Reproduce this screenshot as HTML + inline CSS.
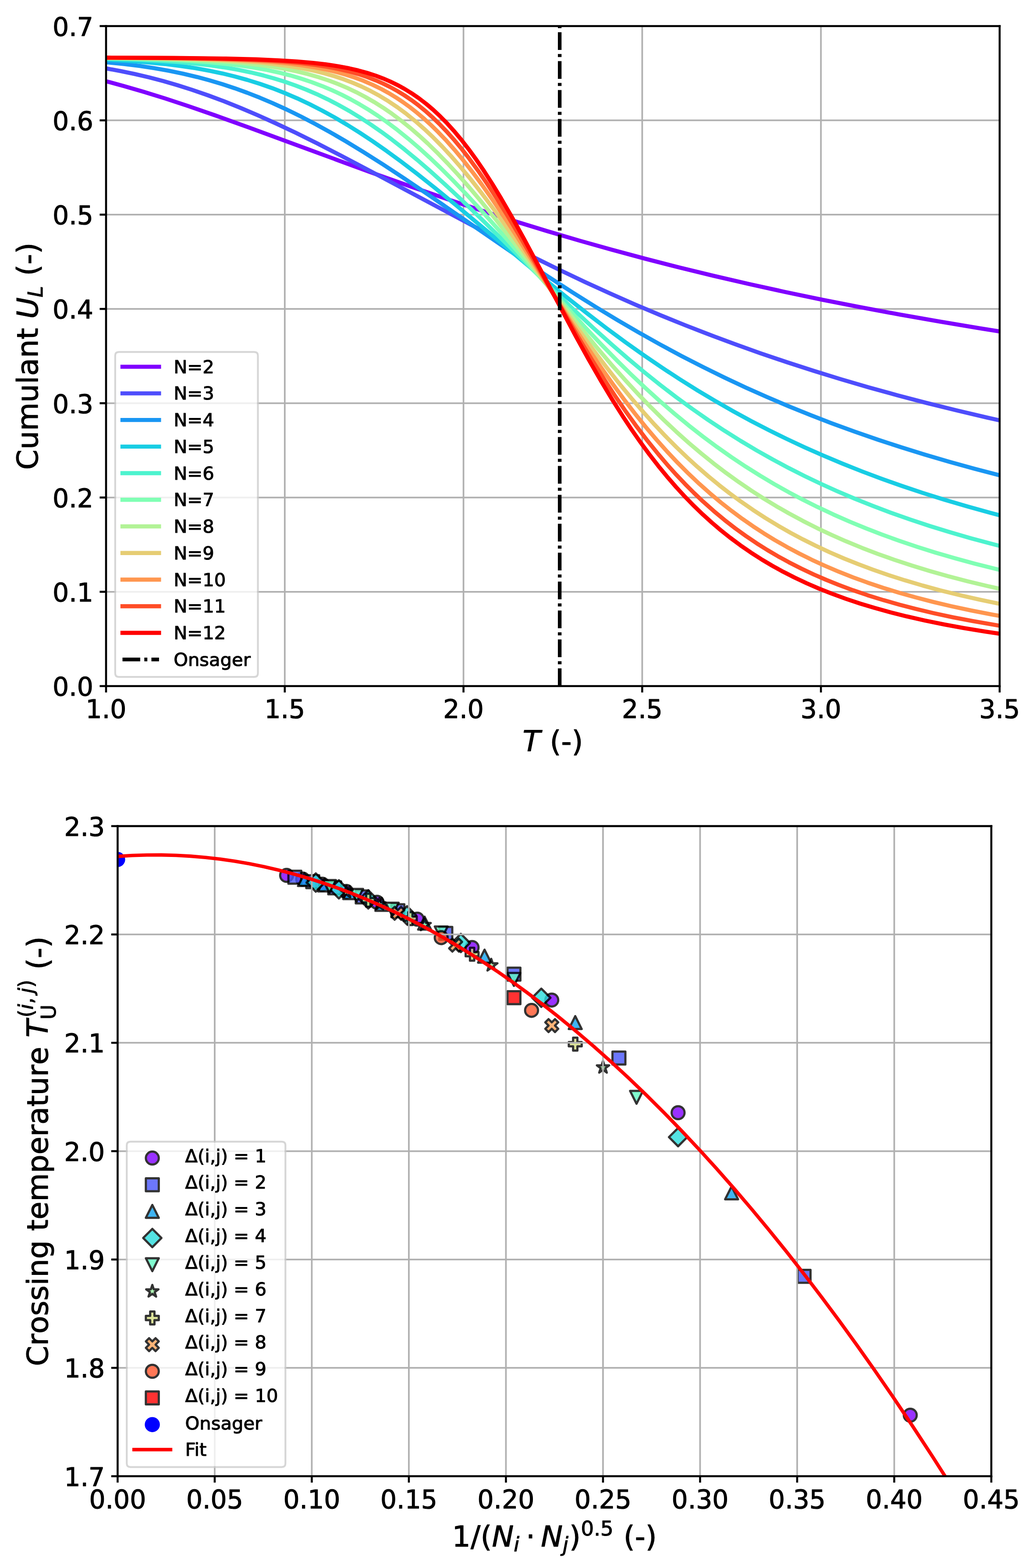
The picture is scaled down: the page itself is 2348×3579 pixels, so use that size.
<!DOCTYPE html>
<html><head><meta charset="utf-8"><title>Binder cumulant and crossing temperatures</title>
<style>html,body{margin:0;padding:0;background:#fff;}svg{display:block;}svg text{stroke:#000;stroke-width:0.28px;stroke-linejoin:round;}</style>
</head><body>
<svg width="2348" height="3579" viewBox="0 0 563.52 858.96" version="1.1">
<defs>
<style type="text/css">*{stroke-linejoin: round; stroke-linecap: butt}</style>
</defs>
<g id="figure_1">
<g id="patch_1">
<path d="M 0 858.96 L 563.52 858.96 L 563.52 0 L 0 0 z
" style="fill: #ffffff"/>
</g>
<g id="axes_1">
<g id="patch_2">
<path d="M 58.08 375.84 L 547.44 375.84 L 547.44 14.28 L 58.08 14.28 z
" style="fill: #ffffff"/>
</g>
<g id="matplotlib.axis_1">
<g id="xtick_1">
<g id="line2d_1">
<path d="M 58.08 375.84 L 58.08 14.28 " clip-path="url(#p5dd6ad48ba)" style="fill: none; stroke: #b0b0b0; stroke-width: 0.9; stroke-linecap: square"/>
</g>
<g id="line2d_2">
<defs>
<path id="mcb6896031c" d="M 0 0 L 0 3.5 " style="stroke: #000000; stroke-width: 1.1"/>
</defs>
<g>
<use href="#mcb6896031c" x="58.08" y="375.84" style="stroke: #000000; stroke-width: 1.1"/>
</g>
</g>
<g id="text_1">
<text style="font-size: 14px; font-family: 'DejaVu Sans', sans-serif; text-anchor: middle" x="58.08" y="393.477813" transform="rotate(-0 58.08 393.477813)">1.0</text>
</g>
</g>
<g id="xtick_2">
<g id="line2d_3">
<path d="M 155.952 375.84 L 155.952 14.28 " clip-path="url(#p5dd6ad48ba)" style="fill: none; stroke: #b0b0b0; stroke-width: 0.9; stroke-linecap: square"/>
</g>
<g id="line2d_4">
<g>
<use href="#mcb6896031c" x="155.952" y="375.84" style="stroke: #000000; stroke-width: 1.1"/>
</g>
</g>
<g id="text_2">
<text style="font-size: 14px; font-family: 'DejaVu Sans', sans-serif; text-anchor: middle" x="155.952" y="393.477813" transform="rotate(-0 155.952 393.477813)">1.5</text>
</g>
</g>
<g id="xtick_3">
<g id="line2d_5">
<path d="M 253.824 375.84 L 253.824 14.28 " clip-path="url(#p5dd6ad48ba)" style="fill: none; stroke: #b0b0b0; stroke-width: 0.9; stroke-linecap: square"/>
</g>
<g id="line2d_6">
<g>
<use href="#mcb6896031c" x="253.824" y="375.84" style="stroke: #000000; stroke-width: 1.1"/>
</g>
</g>
<g id="text_3">
<text style="font-size: 14px; font-family: 'DejaVu Sans', sans-serif; text-anchor: middle" x="253.824" y="393.477813" transform="rotate(-0 253.824 393.477813)">2.0</text>
</g>
</g>
<g id="xtick_4">
<g id="line2d_7">
<path d="M 351.696 375.84 L 351.696 14.28 " clip-path="url(#p5dd6ad48ba)" style="fill: none; stroke: #b0b0b0; stroke-width: 0.9; stroke-linecap: square"/>
</g>
<g id="line2d_8">
<g>
<use href="#mcb6896031c" x="351.696" y="375.84" style="stroke: #000000; stroke-width: 1.1"/>
</g>
</g>
<g id="text_4">
<text style="font-size: 14px; font-family: 'DejaVu Sans', sans-serif; text-anchor: middle" x="351.696" y="393.477813" transform="rotate(-0 351.696 393.477813)">2.5</text>
</g>
</g>
<g id="xtick_5">
<g id="line2d_9">
<path d="M 449.568 375.84 L 449.568 14.28 " clip-path="url(#p5dd6ad48ba)" style="fill: none; stroke: #b0b0b0; stroke-width: 0.9; stroke-linecap: square"/>
</g>
<g id="line2d_10">
<g>
<use href="#mcb6896031c" x="449.568" y="375.84" style="stroke: #000000; stroke-width: 1.1"/>
</g>
</g>
<g id="text_5">
<text style="font-size: 14px; font-family: 'DejaVu Sans', sans-serif; text-anchor: middle" x="449.568" y="393.477813" transform="rotate(-0 449.568 393.477813)">3.0</text>
</g>
</g>
<g id="xtick_6">
<g id="line2d_11">
<path d="M 547.44 375.84 L 547.44 14.28 " clip-path="url(#p5dd6ad48ba)" style="fill: none; stroke: #b0b0b0; stroke-width: 0.9; stroke-linecap: square"/>
</g>
<g id="line2d_12">
<g>
<use href="#mcb6896031c" x="547.44" y="375.84" style="stroke: #000000; stroke-width: 1.1"/>
</g>
</g>
<g id="text_6">
<text style="font-size: 14px; font-family: 'DejaVu Sans', sans-serif; text-anchor: middle" x="547.44" y="393.477813" transform="rotate(-0 547.44 393.477813)">3.5</text>
</g>
</g>
<g id="text_7">
<!-- $T$ (-) -->
<g transform="translate(286.2 412.546875)">
<text>
<tspan x="0" y="-0.859375" style="font-style: oblique; font-size: 16px; font-family: 'DejaVu Sans', sans-serif">T</tspan>
<tspan x="9.773438" y="-0.859375" style="font-size: 16px; font-family: 'DejaVu Sans', sans-serif"> </tspan>
<tspan x="14.859375" y="-0.859375" style="font-size: 16px; font-family: 'DejaVu Sans', sans-serif">(</tspan>
<tspan x="21.101562" y="-0.859375" style="font-size: 16px; font-family: 'DejaVu Sans', sans-serif">-</tspan>
<tspan x="26.875" y="-0.859375" style="font-size: 16px; font-family: 'DejaVu Sans', sans-serif">)</tspan>
</text>
</g>
</g>
</g>
<g id="matplotlib.axis_2">
<g id="ytick_1">
<g id="line2d_13">
<path d="M 58.08 375.84 L 547.44 375.84 " clip-path="url(#p5dd6ad48ba)" style="fill: none; stroke: #b0b0b0; stroke-width: 0.9; stroke-linecap: square"/>
</g>
<g id="line2d_14">
<defs>
<path id="mef8e797f4b" d="M 0 0 L -3.5 0 " style="stroke: #000000; stroke-width: 1.1"/>
</defs>
<g>
<use href="#mef8e797f4b" x="58.08" y="375.84" style="stroke: #000000; stroke-width: 1.1"/>
</g>
</g>
<g id="text_8">
<text style="font-size: 14px; font-family: 'DejaVu Sans', sans-serif; text-anchor: end" x="51.08" y="381.158906" transform="rotate(-0 51.08 381.158906)">0.0</text>
</g>
</g>
<g id="ytick_2">
<g id="line2d_15">
<path d="M 58.08 324.188571 L 547.44 324.188571 " clip-path="url(#p5dd6ad48ba)" style="fill: none; stroke: #b0b0b0; stroke-width: 0.9; stroke-linecap: square"/>
</g>
<g id="line2d_16">
<g>
<use href="#mef8e797f4b" x="58.08" y="324.188571" style="stroke: #000000; stroke-width: 1.1"/>
</g>
</g>
<g id="text_9">
<text style="font-size: 14px; font-family: 'DejaVu Sans', sans-serif; text-anchor: end" x="51.08" y="329.507478" transform="rotate(-0 51.08 329.507478)">0.1</text>
</g>
</g>
<g id="ytick_3">
<g id="line2d_17">
<path d="M 58.08 272.537143 L 547.44 272.537143 " clip-path="url(#p5dd6ad48ba)" style="fill: none; stroke: #b0b0b0; stroke-width: 0.9; stroke-linecap: square"/>
</g>
<g id="line2d_18">
<g>
<use href="#mef8e797f4b" x="58.08" y="272.537143" style="stroke: #000000; stroke-width: 1.1"/>
</g>
</g>
<g id="text_10">
<text style="font-size: 14px; font-family: 'DejaVu Sans', sans-serif; text-anchor: end" x="51.08" y="277.856049" transform="rotate(-0 51.08 277.856049)">0.2</text>
</g>
</g>
<g id="ytick_4">
<g id="line2d_19">
<path d="M 58.08 220.885714 L 547.44 220.885714 " clip-path="url(#p5dd6ad48ba)" style="fill: none; stroke: #b0b0b0; stroke-width: 0.9; stroke-linecap: square"/>
</g>
<g id="line2d_20">
<g>
<use href="#mef8e797f4b" x="58.08" y="220.885714" style="stroke: #000000; stroke-width: 1.1"/>
</g>
</g>
<g id="text_11">
<text style="font-size: 14px; font-family: 'DejaVu Sans', sans-serif; text-anchor: end" x="51.08" y="226.204621" transform="rotate(-0 51.08 226.204621)">0.3</text>
</g>
</g>
<g id="ytick_5">
<g id="line2d_21">
<path d="M 58.08 169.234286 L 547.44 169.234286 " clip-path="url(#p5dd6ad48ba)" style="fill: none; stroke: #b0b0b0; stroke-width: 0.9; stroke-linecap: square"/>
</g>
<g id="line2d_22">
<g>
<use href="#mef8e797f4b" x="58.08" y="169.234286" style="stroke: #000000; stroke-width: 1.1"/>
</g>
</g>
<g id="text_12">
<text style="font-size: 14px; font-family: 'DejaVu Sans', sans-serif; text-anchor: end" x="51.08" y="174.553192" transform="rotate(-0 51.08 174.553192)">0.4</text>
</g>
</g>
<g id="ytick_6">
<g id="line2d_23">
<path d="M 58.08 117.582857 L 547.44 117.582857 " clip-path="url(#p5dd6ad48ba)" style="fill: none; stroke: #b0b0b0; stroke-width: 0.9; stroke-linecap: square"/>
</g>
<g id="line2d_24">
<g>
<use href="#mef8e797f4b" x="58.08" y="117.582857" style="stroke: #000000; stroke-width: 1.1"/>
</g>
</g>
<g id="text_13">
<text style="font-size: 14px; font-family: 'DejaVu Sans', sans-serif; text-anchor: end" x="51.08" y="122.901763" transform="rotate(-0 51.08 122.901763)">0.5</text>
</g>
</g>
<g id="ytick_7">
<g id="line2d_25">
<path d="M 58.08 65.931429 L 547.44 65.931429 " clip-path="url(#p5dd6ad48ba)" style="fill: none; stroke: #b0b0b0; stroke-width: 0.9; stroke-linecap: square"/>
</g>
<g id="line2d_26">
<g>
<use href="#mef8e797f4b" x="58.08" y="65.931429" style="stroke: #000000; stroke-width: 1.1"/>
</g>
</g>
<g id="text_14">
<text style="font-size: 14px; font-family: 'DejaVu Sans', sans-serif; text-anchor: end" x="51.08" y="71.250335" transform="rotate(-0 51.08 71.250335)">0.6</text>
</g>
</g>
<g id="ytick_8">
<g id="line2d_27">
<path d="M 58.08 14.28 L 547.44 14.28 " clip-path="url(#p5dd6ad48ba)" style="fill: none; stroke: #b0b0b0; stroke-width: 0.9; stroke-linecap: square"/>
</g>
<g id="line2d_28">
<g>
<use href="#mef8e797f4b" x="58.08" y="14.28" style="stroke: #000000; stroke-width: 1.1"/>
</g>
</g>
<g id="text_15">
<text style="font-size: 14px; font-family: 'DejaVu Sans', sans-serif; text-anchor: end" x="51.08" y="19.598906" transform="rotate(-0 51.08 19.598906)">0.7</text>
</g>
</g>
<g id="text_16">
<!-- Cumulant $U_L$ (-) -->
<g transform="translate(21.488125 257.38) rotate(-90)">
<text>
<tspan x="0" y="-0.84375" style="font-size: 16px; font-family: 'DejaVu Sans', sans-serif">C</tspan>
<tspan x="11.171875" y="-0.84375" style="font-size: 16px; font-family: 'DejaVu Sans', sans-serif">u</tspan>
<tspan x="21.3125" y="-0.84375" style="font-size: 16px; font-family: 'DejaVu Sans', sans-serif">m</tspan>
<tspan x="36.898438" y="-0.84375" style="font-size: 16px; font-family: 'DejaVu Sans', sans-serif">u</tspan>
<tspan x="47.039062" y="-0.84375" style="font-size: 16px; font-family: 'DejaVu Sans', sans-serif">l</tspan>
<tspan x="51.484375" y="-0.84375" style="font-size: 16px; font-family: 'DejaVu Sans', sans-serif">a</tspan>
<tspan x="61.289062" y="-0.84375" style="font-size: 16px; font-family: 'DejaVu Sans', sans-serif">n</tspan>
<tspan x="71.429688" y="-0.84375" style="font-size: 16px; font-family: 'DejaVu Sans', sans-serif">t</tspan>
<tspan x="77.703125" y="-0.84375" style="font-size: 16px; font-family: 'DejaVu Sans', sans-serif"> </tspan>
<tspan x="101.177344" y="-0.84375" style="font-size: 16px; font-family: 'DejaVu Sans', sans-serif"> </tspan>
<tspan x="106.263281" y="-0.84375" style="font-size: 16px; font-family: 'DejaVu Sans', sans-serif">(</tspan>
<tspan x="112.505469" y="-0.84375" style="font-size: 16px; font-family: 'DejaVu Sans', sans-serif">-</tspan>
<tspan x="118.278906" y="-0.84375" style="font-size: 16px; font-family: 'DejaVu Sans', sans-serif">)</tspan>
<tspan x="82.789062" y="-0.84375" style="font-style: oblique; font-size: 16px; font-family: 'DejaVu Sans', sans-serif">U</tspan>
<tspan x="94.5" y="1.78125" style="font-style: oblique; font-size: 11.2px; font-family: 'DejaVu Sans', sans-serif">L</tspan>
</text>
</g>
</g>
</g>
<g id="line2d_29">
<path d="M 58.08 44.505252 L 67.8672 47.13776 L 78.63312 50.263876 L 90.37776 53.913505 L 103.10112 58.102103 L 117.78192 63.172744 L 136.3776 69.850296 L 165.7392 80.676728 L 202.93056 94.340413 L 225.44112 102.365293 L 245.01552 109.11666 L 263.6112 115.304272 L 282.20688 121.254407 L 299.82384 126.664158 L 317.4408 131.850064 L 335.05776 136.813083 L 353.65344 141.814073 L 372.24912 146.577405 L 390.8448 151.111332 L 410.4192 155.646307 L 429.9936 159.949023 L 450.54672 164.229961 L 471.09984 168.28182 L 492.63168 172.295722 L 514.16352 176.088219 L 536.67408 179.832021 L 547.44 181.547153 L 547.44 181.547153 " clip-path="url(#p5dd6ad48ba)" style="fill: none; stroke: #8000ff; stroke-width: 2.25; stroke-linecap: square"/>
</g>
<g id="line2d_30">
<path d="M 58.08 37.476616 L 65.90976 38.899082 L 73.73952 40.526762 L 81.56928 42.365592 L 89.39904 44.418645 L 97.2288 46.686115 L 105.05856 49.165387 L 113.86704 52.201087 L 122.67552 55.486974 L 131.484 59.008519 L 141.2712 63.176561 L 151.0584 67.587127 L 161.82432 72.683863 L 173.56896 78.49017 L 187.27104 85.519189 L 204.888 94.832439 L 273.3984 131.352412 L 290.03664 139.808052 L 305.69616 147.508275 L 320.37696 154.475215 L 334.07904 160.744234 L 347.78112 166.780482 L 361.4832 172.580658 L 375.18528 178.144557 L 388.88736 183.474447 L 402.58944 188.574527 L 416.29152 193.450467 L 430.97232 198.433657 L 445.65312 203.176598 L 460.33392 207.689227 L 475.99344 212.260456 L 491.65296 216.594042 L 507.31248 220.702604 L 523.95072 224.835245 L 540.58896 228.742253 L 547.44 230.288695 L 547.44 230.288695 " clip-path="url(#p5dd6ad48ba)" style="fill: none; stroke: #4e4dfc; stroke-width: 2.25; stroke-linecap: square"/>
</g>
<g id="line2d_31">
<path d="M 58.08 34.086727 L 67.8672 35.058135 L 76.67568 36.155841 L 84.50544 37.333696 L 92.3352 38.722285 L 100.16496 40.339889 L 107.99472 42.20277 L 114.84576 44.044802 L 121.6968 46.092323 L 128.54784 48.350477 L 135.39888 50.822197 L 142.24992 53.5081 L 149.10096 56.406456 L 156.93072 59.973712 L 164.76048 63.8035 L 172.59024 67.882717 L 180.42 72.195143 L 189.22848 77.301794 L 199.01568 83.257302 L 209.7816 90.098785 L 221.52624 97.838119 L 236.20704 107.796292 L 262.63248 126.061793 L 284.16432 140.82321 L 299.82384 151.285818 L 313.52592 160.168337 L 326.24928 168.146695 L 337.99392 175.257317 L 349.73856 182.109442 L 361.4832 188.694241 L 373.22784 195.007357 L 384.97248 201.048134 L 396.71712 206.818914 L 408.46176 212.324417 L 420.2064 217.571199 L 431.95104 222.567192 L 443.69568 227.321316 L 455.44032 231.843154 L 468.16368 236.491274 L 480.88704 240.891449 L 493.6104 245.056642 L 506.33376 248.999642 L 520.03584 253.011771 L 533.73792 256.79573 L 547.44 260.365917 L 547.44 260.365917 " clip-path="url(#p5dd6ad48ba)" style="fill: none; stroke: #1996f3; stroke-width: 2.25; stroke-linecap: square"/>
</g>
<g id="line2d_32">
<path d="M 58.08 32.723312 L 69.82464 33.347064 L 80.59056 34.139075 L 90.37776 35.091297 L 99.18624 36.178434 L 107.016 37.359325 L 114.84576 38.770485 L 121.6968 40.215476 L 128.54784 41.875082 L 135.39888 43.76572 L 142.24992 45.902156 L 149.10096 48.296994 L 155.952 50.960207 L 162.80304 53.898729 L 169.65408 57.116146 L 176.50512 60.61247 L 183.35616 64.38405 L 190.2072 68.423584 L 197.05824 72.720264 L 203.90928 77.260014 L 211.73904 82.724009 L 219.5688 88.453855 L 228.37728 95.17688 L 238.16448 102.931886 L 249.90912 112.536103 L 266.54736 126.470286 L 295.90896 151.095686 L 309.61104 162.263156 L 321.35568 171.550462 L 332.1216 179.786992 L 342.88752 187.729198 L 352.67472 194.67709 L 362.46192 201.355628 L 372.24912 207.759619 L 382.03632 213.88757 L 391.82352 219.741051 L 401.61072 225.324112 L 411.39792 230.642764 L 421.18512 235.704524 L 430.97232 240.518023 L 440.75952 245.092682 L 450.54672 249.438431 L 461.31264 253.96656 L 472.07856 258.243805 L 482.84448 262.283819 L 493.6104 266.100004 L 505.35504 270.023124 L 517.09968 273.711605 L 529.82304 277.460615 L 542.5464 280.971004 L 547.44 282.261343 L 547.44 282.261343 " clip-path="url(#p5dd6ad48ba)" style="fill: none; stroke: #18cde4; stroke-width: 2.25; stroke-linecap: square"/>
</g>
<g id="line2d_33">
<path d="M 58.08 32.150521 L 73.73952 32.638751 L 86.46288 33.252502 L 97.2288 33.987184 L 107.016 34.881228 L 115.82448 35.917071 L 123.65424 37.059849 L 130.50528 38.25963 L 137.35632 39.671459 L 144.20736 41.320133 L 150.07968 42.940399 L 155.952 44.767553 L 161.82432 46.815481 L 167.69664 49.096707 L 173.56896 51.62199 L 179.44128 54.399958 L 185.3136 57.436768 L 191.18592 60.735835 L 197.05824 64.297622 L 202.93056 68.119514 L 208.80288 72.195784 L 214.6752 76.517643 L 221.52624 81.854437 L 228.37728 87.486268 L 235.22832 93.385595 L 243.05808 100.415189 L 251.86656 108.629221 L 262.63248 119.00051 L 277.31328 133.490176 L 302.76 158.641992 L 314.50464 169.928232 L 325.27056 179.960628 L 335.05776 188.766706 L 343.86624 196.406552 L 352.67472 203.757291 L 361.4832 210.807338 L 370.29168 217.55038 L 379.10016 223.98457 L 387.90864 230.111768 L 396.71712 235.936822 L 405.5256 241.466943 L 414.33408 246.711138 L 423.14256 251.679735 L 431.95104 256.383973 L 440.75952 260.835667 L 449.568 265.046928 L 458.37648 269.029946 L 468.16368 273.202529 L 477.95088 277.124495 L 487.73808 280.811568 L 498.504 284.614026 L 509.26992 288.169574 L 520.03584 291.49617 L 531.78048 294.883795 L 543.52512 298.039227 L 547.44 299.042719 L 547.44 299.042719 " clip-path="url(#p5dd6ad48ba)" style="fill: none; stroke: #4df3ce; stroke-width: 2.25; stroke-linecap: square"/>
</g>
<g id="line2d_34">
<path d="M 58.08 31.882433 L 77.6544 32.271465 L 92.3352 32.769677 L 104.07984 33.36735 L 114.84576 34.136193 L 123.65424 34.973783 L 131.484 35.917257 L 139.31376 37.088425 L 146.1648 38.333988 L 153.01584 39.818382 L 158.88816 41.305626 L 164.76048 43.013392 L 170.6328 44.962458 L 176.50512 47.172816 L 182.37744 49.663052 L 187.27104 51.96404 L 192.16464 54.479059 L 197.05824 57.214703 L 201.95184 60.175782 L 206.84544 63.36513 L 211.73904 66.783449 L 217.61136 71.185347 L 223.48368 75.907608 L 229.356 80.938479 L 235.22832 86.261655 L 241.10064 91.856621 L 247.95168 98.695062 L 255.78144 106.866411 L 264.58992 116.426337 L 275.35584 128.484542 L 296.88768 153.075135 L 310.58976 168.516797 L 320.37696 179.240833 L 329.18544 188.594002 L 337.99392 197.615462 L 345.82368 205.327888 L 353.65344 212.733951 L 361.4832 219.822999 L 369.31296 226.589734 L 377.14272 233.033384 L 384.97248 239.156919 L 392.80224 244.96632 L 400.632 250.469924 L 408.46176 255.677851 L 416.29152 260.601503 L 424.12128 265.253152 L 431.95104 269.645588 L 439.7808 273.79184 L 447.61056 277.704949 L 456.41904 281.84454 L 465.22752 285.72322 L 474.036 289.358208 L 482.84448 292.765949 L 492.63168 296.304743 L 502.41888 299.602325 L 512.20608 302.677425 L 522.972 305.823768 L 533.73792 308.743193 L 545.48256 311.692043 L 547.44 312.161156 L 547.44 312.161156 " clip-path="url(#p5dd6ad48ba)" style="fill: none; stroke: #80ffb4; stroke-width: 2.25; stroke-linecap: square"/>
</g>
<g id="line2d_35">
<path d="M 58.08 31.742376 L 81.56928 32.062588 L 99.18624 32.518952 L 112.88832 33.096883 L 123.65424 33.760489 L 133.44144 34.5884 L 141.2712 35.452543 L 149.10096 36.542561 L 155.952 37.720899 L 162.80304 39.148131 L 168.67536 40.60043 L 174.54768 42.292568 L 180.42 44.252203 L 185.3136 46.109452 L 190.2072 48.187041 L 195.1008 50.499543 L 199.9944 53.060254 L 204.888 55.880768 L 209.7816 58.970571 L 214.6752 62.336659 L 219.5688 65.983195 L 224.4624 69.911246 L 229.356 74.118579 L 234.2496 78.599563 L 239.1432 83.345161 L 245.01552 89.371558 L 250.88784 95.733833 L 256.76016 102.399024 L 263.6112 110.507331 L 271.44096 120.130584 L 281.22816 132.539707 L 318.41952 180.129688 L 327.228 190.821012 L 335.05776 199.983662 L 342.88752 208.785211 L 349.73856 216.168869 L 356.5896 223.243578 L 363.44064 230.002907 L 370.29168 236.444916 L 377.14272 242.571427 L 383.99376 248.387343 L 390.8448 253.900019 L 397.69584 259.118702 L 404.54688 264.054045 L 411.39792 268.717687 L 418.24896 273.121898 L 425.1 277.279292 L 431.95104 281.202587 L 439.7808 285.415903 L 447.61056 289.358437 L 455.44032 293.048076 L 463.27008 296.501957 L 472.07856 300.126018 L 480.88704 303.494125 L 489.69552 306.626628 L 499.48272 309.853765 L 509.26992 312.8371 L 519.05712 315.598339 L 529.82304 318.402683 L 540.58896 320.985858 L 547.44 322.524371 L 547.44 322.524371 " clip-path="url(#p5dd6ad48ba)" style="fill: none; stroke: #b2f396; stroke-width: 2.25; stroke-linecap: square"/>
</g>
<g id="line2d_36">
<path d="M 58.08 31.662404 L 86.46288 31.948878 L 106.03728 32.363502 L 120.71808 32.895682 L 132.46272 33.544051 L 142.24992 34.306439 L 151.0584 35.229082 L 158.88816 36.294006 L 165.7392 37.461877 L 171.61152 38.67357 L 177.48384 40.112496 L 183.35616 41.812126 L 188.24976 43.452945 L 193.14336 45.31996 L 198.03696 47.433853 L 202.93056 49.814688 L 207.82416 52.481326 L 212.71776 55.450784 L 217.61136 58.7376 L 222.50496 62.353192 L 227.39856 66.30528 L 232.29216 70.59738 L 237.18576 75.228422 L 242.07936 80.192498 L 246.97296 85.478779 L 251.86656 91.071594 L 257.73888 98.158779 L 263.6112 105.615154 L 270.46224 114.713749 L 278.292 125.52955 L 288.0792 139.466881 L 315.48336 178.743313 L 324.29184 190.835997 L 332.1216 201.186842 L 338.97264 209.886978 L 345.82368 218.223952 L 352.67472 226.178857 L 358.54704 232.685025 L 364.41936 238.900129 L 370.29168 244.824969 L 376.164 250.463067 L 382.03632 255.820166 L 387.90864 260.903765 L 393.78096 265.722713 L 399.65328 270.286848 L 405.5256 274.606695 L 412.37664 279.352382 L 419.22768 283.798198 L 426.07872 287.961882 L 432.92976 291.860909 L 439.7808 295.512271 L 446.63184 298.932324 L 454.4616 302.577717 L 462.29136 305.963378 L 470.12112 309.109885 L 477.95088 312.036365 L 486.75936 315.087632 L 495.56784 317.905902 L 505.35504 320.789548 L 515.14224 323.437477 L 525.90816 326.10568 L 536.67408 328.544383 L 547.44 330.777936 L 547.44 330.777936 " clip-path="url(#p5dd6ad48ba)" style="fill: none; stroke: #e6cd73; stroke-width: 2.25; stroke-linecap: square"/>
</g>
<g id="line2d_37">
<path d="M 58.08 31.613551 L 90.37776 31.861889 L 111.9096 32.239849 L 127.56912 32.733726 L 139.31376 33.311393 L 149.10096 33.998897 L 157.90944 34.842588 L 165.7392 35.831095 L 172.59024 36.931493 L 178.46256 38.089299 L 184.33488 39.483152 L 189.22848 40.853648 L 194.12208 42.440397 L 199.01568 44.269231 L 203.90928 46.36657 L 208.80288 48.758766 L 212.71776 50.902013 L 216.63264 53.262639 L 220.54752 55.851946 L 224.4624 58.679903 L 228.37728 61.754835 L 232.29216 65.08312 L 236.20704 68.668906 L 240.12192 72.513883 L 244.0368 76.61709 L 248.9304 82.103275 L 253.824 87.973383 L 258.7176 94.207072 L 263.6112 100.777537 L 269.48352 109.060308 L 275.35584 117.715055 L 282.20688 128.184142 L 291.99408 143.597147 L 314.50464 179.27452 L 322.3344 191.226215 L 329.18544 201.327449 L 336.03648 211.034924 L 341.9088 219.009883 L 347.78112 226.646213 L 353.65344 233.932655 L 359.52576 240.86396 L 365.39808 247.439987 L 371.2704 253.664822 L 377.14272 259.54595 L 383.01504 265.093503 L 388.88736 270.319595 L 394.75968 275.237748 L 400.632 279.862405 L 406.50432 284.208524 L 412.37664 288.291258 L 418.24896 292.125686 L 424.12128 295.726623 L 430.97232 299.651779 L 437.82336 303.300618 L 444.6744 306.693928 L 451.52544 309.851264 L 459.3552 313.194095 L 467.18496 316.277805 L 475.01472 319.12553 L 483.8232 322.073349 L 492.63168 324.776337 L 501.44016 327.258853 L 511.22736 329.785051 L 521.01456 332.092453 L 531.78048 334.405729 L 543.52512 336.691551 L 547.44 337.403578 L 547.44 337.403578 " clip-path="url(#p5dd6ad48ba)" style="fill: none; stroke: #ff964f; stroke-width: 2.25; stroke-linecap: square"/>
</g>
<g id="line2d_38">
<path d="M 58.08 31.582114 L 95.27136 31.812303 L 117.78192 32.156467 L 133.44144 32.59432 L 146.1648 33.163636 L 155.952 33.805908 L 164.76048 34.604228 L 172.59024 35.552543 L 179.44128 36.622811 L 185.3136 37.763527 L 191.18592 39.154166 L 196.07952 40.537675 L 200.97312 42.156967 L 205.86672 44.043592 L 209.7816 45.767373 L 213.69648 47.700222 L 217.61136 49.858985 L 221.52624 52.259961 L 225.44112 54.918486 L 229.356 57.84848 L 233.27088 61.06198 L 237.18576 64.568681 L 241.10064 68.375503 L 245.01552 72.486197 L 248.9304 76.901022 L 252.84528 81.616516 L 256.76016 86.625354 L 261.65376 93.28149 L 266.54736 100.348064 L 271.44096 107.786443 L 277.31328 117.138018 L 284.16432 128.519337 L 292.9728 143.65446 L 316.46208 184.339774 L 324.29184 197.302072 L 331.14288 208.189428 L 337.0152 217.128724 L 342.88752 225.673355 L 348.75984 233.803792 L 354.63216 241.509697 L 360.50448 248.788553 L 365.39808 254.530721 L 370.29168 259.984023 L 375.18528 265.155512 L 380.07888 270.053796 L 384.97248 274.68865 L 390.8448 279.91773 L 396.71712 284.802103 L 402.58944 289.361638 L 408.46176 293.61629 L 414.33408 297.585731 L 420.2064 301.289092 L 426.07872 304.744768 L 431.95104 307.970288 L 438.80208 311.464573 L 445.65312 314.692758 L 452.50416 317.677629 L 459.3552 320.440156 L 467.18496 323.349651 L 475.01472 326.019834 L 483.8232 328.766808 L 492.63168 331.270209 L 501.44016 333.556303 L 511.22736 335.869638 L 521.99328 338.170565 L 532.7592 340.247124 L 544.50384 342.288816 L 547.44 342.766312 L 547.44 342.766312 " clip-path="url(#p5dd6ad48ba)" style="fill: none; stroke: #ff4d27; stroke-width: 2.25; stroke-linecap: square"/>
</g>
<g id="line2d_39">
<path d="M 58.08 31.561022 L 99.18624 31.768308 L 123.65424 32.099491 L 140.29248 32.532416 L 153.01584 33.075328 L 162.80304 33.694898 L 171.61152 34.474682 L 178.46256 35.280791 L 185.3136 36.316552 L 191.18592 37.434504 L 196.07952 38.564028 L 200.97312 39.906439 L 205.86672 41.496103 L 209.7816 42.970808 L 213.69648 44.647701 L 217.61136 46.547549 L 221.52624 48.691362 L 225.44112 51.09992 L 229.356 53.793238 L 233.27088 56.78996 L 237.18576 60.106718 L 241.10064 63.757462 L 245.01552 67.752814 L 248.9304 72.099463 L 252.84528 76.799643 L 256.76016 81.850729 L 260.67504 87.244974 L 264.58992 92.969422 L 269.48352 100.561322 L 274.37712 108.59472 L 280.24944 118.737794 L 287.10048 131.120961 L 295.90896 147.605431 L 315.48336 184.476437 L 322.3344 196.875367 L 329.18544 208.79088 L 335.05776 218.548957 L 340.93008 227.843461 L 345.82368 235.215728 L 350.71728 242.239813 L 355.61088 248.912972 L 360.50448 255.236978 L 365.39808 261.217328 L 370.29168 266.862495 L 375.18528 272.183248 L 380.07888 277.192062 L 384.97248 281.902597 L 389.86608 286.329262 L 394.75968 290.48686 L 399.65328 294.39029 L 405.5256 298.759673 L 411.39792 302.809193 L 417.27024 306.562775 L 423.14256 310.04316 L 429.01488 313.271771 L 434.8872 316.268644 L 441.73824 319.496891 L 448.58928 322.462243 L 455.44032 325.189455 L 463.27008 328.043341 L 471.09984 330.645447 L 478.9296 333.022449 L 487.73808 335.456849 L 496.54656 337.665823 L 506.33376 339.887137 L 517.09968 342.082332 L 527.8656 344.051105 L 539.61024 345.975215 L 547.44 347.143953 L 547.44 347.143953 " clip-path="url(#p5dd6ad48ba)" style="fill: none; stroke: #ff0000; stroke-width: 2.25; stroke-linecap: square"/>
</g>
<g id="line2d_40">
<path d="M 306.51541 375.84 L 306.51541 14.28 " clip-path="url(#p5dd6ad48ba)" style="fill: none; stroke-dasharray: 9.72,2.232,1.656,2.232; stroke-dashoffset: 0; stroke: #000000; stroke-width: 2"/>
</g>
<g id="patch_3">
<path d="M 58.08 375.84 L 58.08 14.28 " style="fill: none; stroke: #000000; stroke-width: 1.1; stroke-linejoin: miter; stroke-linecap: square"/>
</g>
<g id="patch_4">
<path d="M 547.44 375.84 L 547.44 14.28 " style="fill: none; stroke: #000000; stroke-width: 1.1; stroke-linejoin: miter; stroke-linecap: square"/>
</g>
<g id="patch_5">
<path d="M 58.08 375.84 L 547.44 375.84 " style="fill: none; stroke: #000000; stroke-width: 1.1; stroke-linejoin: miter; stroke-linecap: square"/>
</g>
<g id="patch_6">
<path d="M 58.08 14.28 L 547.44 14.28 " style="fill: none; stroke: #000000; stroke-width: 1.1; stroke-linejoin: miter; stroke-linecap: square"/>
</g>
<g id="legend_1">
<g id="patch_7">
<path d="M 65.08 370.84 L 139.239375 370.84 Q 141.239375 370.84 141.239375 368.84 L 141.239375 194.8025 Q 141.239375 192.8025 139.239375 192.8025 L 65.08 192.8025 Q 63.08 192.8025 63.08 194.8025 L 63.08 368.84 Q 63.08 370.84 65.08 370.84 z
" style="fill: #ffffff; opacity: 0.8; stroke: #cccccc; stroke-linejoin: miter"/>
</g>
<g id="line2d_41">
<path d="M 67.08 200.900938 L 77.08 200.900938 L 87.08 200.900938 " style="fill: none; stroke: #8000ff; stroke-width: 2.25; stroke-linecap: square"/>
</g>
<g id="text_17">
<text style="font-size: 10px; font-family: 'DejaVu Sans', sans-serif; text-anchor: start" x="95.08" y="204.400938" transform="rotate(-0 95.08 204.400938)">N=2</text>
</g>
<g id="line2d_42">
<path d="M 67.08 215.479063 L 77.08 215.479063 L 87.08 215.479063 " style="fill: none; stroke: #4e4dfc; stroke-width: 2.25; stroke-linecap: square"/>
</g>
<g id="text_18">
<text style="font-size: 10px; font-family: 'DejaVu Sans', sans-serif; text-anchor: start" x="95.08" y="218.979063" transform="rotate(-0 95.08 218.979063)">N=3</text>
</g>
<g id="line2d_43">
<path d="M 67.08 230.057188 L 77.08 230.057188 L 87.08 230.057188 " style="fill: none; stroke: #1996f3; stroke-width: 2.25; stroke-linecap: square"/>
</g>
<g id="text_19">
<text style="font-size: 10px; font-family: 'DejaVu Sans', sans-serif; text-anchor: start" x="95.08" y="233.557188" transform="rotate(-0 95.08 233.557188)">N=4</text>
</g>
<g id="line2d_44">
<path d="M 67.08 244.635313 L 77.08 244.635313 L 87.08 244.635313 " style="fill: none; stroke: #18cde4; stroke-width: 2.25; stroke-linecap: square"/>
</g>
<g id="text_20">
<text style="font-size: 10px; font-family: 'DejaVu Sans', sans-serif; text-anchor: start" x="95.08" y="248.135313" transform="rotate(-0 95.08 248.135313)">N=5</text>
</g>
<g id="line2d_45">
<path d="M 67.08 259.213438 L 77.08 259.213438 L 87.08 259.213438 " style="fill: none; stroke: #4df3ce; stroke-width: 2.25; stroke-linecap: square"/>
</g>
<g id="text_21">
<text style="font-size: 10px; font-family: 'DejaVu Sans', sans-serif; text-anchor: start" x="95.08" y="262.713438" transform="rotate(-0 95.08 262.713438)">N=6</text>
</g>
<g id="line2d_46">
<path d="M 67.08 273.791563 L 77.08 273.791563 L 87.08 273.791563 " style="fill: none; stroke: #80ffb4; stroke-width: 2.25; stroke-linecap: square"/>
</g>
<g id="text_22">
<text style="font-size: 10px; font-family: 'DejaVu Sans', sans-serif; text-anchor: start" x="95.08" y="277.291563" transform="rotate(-0 95.08 277.291563)">N=7</text>
</g>
<g id="line2d_47">
<path d="M 67.08 288.369688 L 77.08 288.369688 L 87.08 288.369688 " style="fill: none; stroke: #b2f396; stroke-width: 2.25; stroke-linecap: square"/>
</g>
<g id="text_23">
<text style="font-size: 10px; font-family: 'DejaVu Sans', sans-serif; text-anchor: start" x="95.08" y="291.869688" transform="rotate(-0 95.08 291.869688)">N=8</text>
</g>
<g id="line2d_48">
<path d="M 67.08 302.947813 L 77.08 302.947813 L 87.08 302.947813 " style="fill: none; stroke: #e6cd73; stroke-width: 2.25; stroke-linecap: square"/>
</g>
<g id="text_24">
<text style="font-size: 10px; font-family: 'DejaVu Sans', sans-serif; text-anchor: start" x="95.08" y="306.447813" transform="rotate(-0 95.08 306.447813)">N=9</text>
</g>
<g id="line2d_49">
<path d="M 67.08 317.525938 L 77.08 317.525938 L 87.08 317.525938 " style="fill: none; stroke: #ff964f; stroke-width: 2.25; stroke-linecap: square"/>
</g>
<g id="text_25">
<text style="font-size: 10px; font-family: 'DejaVu Sans', sans-serif; text-anchor: start" x="95.08" y="321.025938" transform="rotate(-0 95.08 321.025938)">N=10</text>
</g>
<g id="line2d_50">
<path d="M 67.08 332.104063 L 77.08 332.104063 L 87.08 332.104063 " style="fill: none; stroke: #ff4d27; stroke-width: 2.25; stroke-linecap: square"/>
</g>
<g id="text_26">
<text style="font-size: 10px; font-family: 'DejaVu Sans', sans-serif; text-anchor: start" x="95.08" y="335.604063" transform="rotate(-0 95.08 335.604063)">N=11</text>
</g>
<g id="line2d_51">
<path d="M 67.08 346.682188 L 77.08 346.682188 L 87.08 346.682188 " style="fill: none; stroke: #ff0000; stroke-width: 2.25; stroke-linecap: square"/>
</g>
<g id="text_27">
<text style="font-size: 10px; font-family: 'DejaVu Sans', sans-serif; text-anchor: start" x="95.08" y="350.182188" transform="rotate(-0 95.08 350.182188)">N=12</text>
</g>
<g id="line2d_52">
<path d="M 67.08 361.260313 L 77.08 361.260313 L 87.08 361.260313 " style="fill: none; stroke-dasharray: 9.72,2.232,1.656,2.232; stroke-dashoffset: 0; stroke: #000000; stroke-width: 2"/>
</g>
<g id="text_28">
<text style="font-size: 10px; font-family: 'DejaVu Sans', sans-serif; text-anchor: start" x="95.08" y="364.760313" transform="rotate(-0 95.08 364.760313)">Onsager</text>
</g>
</g>
</g>
<g id="axes_2">
<g id="patch_8">
<path d="M 64.416 808.68 L 542.88 808.68 L 542.88 452.544 L 64.416 452.544 z
" style="fill: #ffffff"/>
</g>
<g id="PathCollection_1">
<defs>
<path id="m0f5d2a5afa" d="M 0 3.535534 C 0.937635 3.535534 1.836992 3.163008 2.5 2.5 C 3.163008 1.836992 3.535534 0.937635 3.535534 0 C 3.535534 -0.937635 3.163008 -1.836992 2.5 -2.5 C 1.836992 -3.163008 0.937635 -3.535534 0 -3.535534 C -0.937635 -3.535534 -1.836992 -3.163008 -2.5 -2.5 C -3.163008 -1.836992 -3.535534 -0.937635 -3.535534 0 C -3.535534 0.937635 -3.163008 1.836992 -2.5 2.5 C -1.836992 3.163008 -0.937635 3.535534 0 3.535534 z
" style="stroke: #000000; stroke-width: 1.2"/>
</defs>
<g clip-path="url(#p1205e213a5)">
<use href="#m0f5d2a5afa" x="498.487356" y="775.255619" style="fill: #8000ff; opacity: 0.8; stroke: #000000; stroke-width: 1.2"/>
<use href="#m0f5d2a5afa" x="371.350799" y="609.545604" style="fill: #8000ff; opacity: 0.8; stroke: #000000; stroke-width: 1.2"/>
<use href="#m0f5d2a5afa" x="302.166673" y="547.837974" style="fill: #8000ff; opacity: 0.8; stroke: #000000; stroke-width: 1.2"/>
<use href="#m0f5d2a5afa" x="258.538612" y="519.037238" style="fill: #8000ff; opacity: 0.8; stroke: #000000; stroke-width: 1.2"/>
<use href="#m0f5d2a5afa" x="228.479551" y="503.510754" style="fill: #8000ff; opacity: 0.8; stroke: #000000; stroke-width: 1.2"/>
<use href="#m0f5d2a5afa" x="206.499203" y="494.270436" style="fill: #8000ff; opacity: 0.8; stroke: #000000; stroke-width: 1.2"/>
<use href="#m0f5d2a5afa" x="189.721607" y="488.362921" style="fill: #8000ff; opacity: 0.8; stroke: #000000; stroke-width: 1.2"/>
<use href="#m0f5d2a5afa" x="176.492742" y="484.376071" style="fill: #8000ff; opacity: 0.8; stroke: #000000; stroke-width: 1.2"/>
<use href="#m0f5d2a5afa" x="165.793228" y="481.569176" style="fill: #8000ff; opacity: 0.8; stroke: #000000; stroke-width: 1.2"/>
<use href="#m0f5d2a5afa" x="156.960324" y="479.524751" style="fill: #8000ff; opacity: 0.8; stroke: #000000; stroke-width: 1.2"/>
</g>
</g>
<g id="PathCollection_2">
<defs>
<path id="mfa34a29277" d="M -3.535534 3.535534 L 3.535534 3.535534 L 3.535534 -3.535534 L -3.535534 -3.535534 z
" style="stroke: #000000; stroke-width: 1.2"/>
</defs>
<g clip-path="url(#p1205e213a5)">
<use href="#mfa34a29277" x="440.332821" y="699.194188" style="fill: #4856fb; opacity: 0.8; stroke: #000000; stroke-width: 1.2"/>
<use href="#mfa34a29277" x="338.94683" y="579.592681" style="fill: #4856fb; opacity: 0.8; stroke: #000000; stroke-width: 1.2"/>
<use href="#mfa34a29277" x="281.451678" y="533.637036" style="fill: #4856fb; opacity: 0.8; stroke: #000000; stroke-width: 1.2"/>
<use href="#mfa34a29277" x="244.138616" y="511.334074" style="fill: #4856fb; opacity: 0.8; stroke: #000000; stroke-width: 1.2"/>
<use href="#mfa34a29277" x="217.8834" y="498.912794" style="fill: #4856fb; opacity: 0.8; stroke: #000000; stroke-width: 1.2"/>
<use href="#mfa34a29277" x="198.373329" y="491.326155" style="fill: #4856fb; opacity: 0.8; stroke: #000000; stroke-width: 1.2"/>
<use href="#mfa34a29277" x="183.291337" y="486.373999" style="fill: #4856fb; opacity: 0.8; stroke: #000000; stroke-width: 1.2"/>
<use href="#mfa34a29277" x="171.276981" y="482.974948" style="fill: #4856fb; opacity: 0.8; stroke: #000000; stroke-width: 1.2"/>
<use href="#mfa34a29277" x="161.477306" y="480.548244" style="fill: #4856fb; opacity: 0.8; stroke: #000000; stroke-width: 1.2"/>
</g>
</g>
<g id="PathCollection_3">
<defs>
<path id="m9e8f64cb88" d="M 0 -3.535534 L -3.535534 3.535534 L 3.535534 3.535534 z
" style="stroke: #000000; stroke-width: 1.2"/>
</defs>
<g clip-path="url(#p1205e213a5)">
<use href="#m9e8f64cb88" x="400.646226" y="653.461425" style="fill: #10a2f0; opacity: 0.8; stroke: #000000; stroke-width: 1.2"/>
<use href="#m9e8f64cb88" x="315.027214" y="560.172056" style="fill: #10a2f0; opacity: 0.8; stroke: #000000; stroke-width: 1.2"/>
<use href="#m9e8f64cb88" x="265.351993" y="523.791" style="fill: #10a2f0; opacity: 0.8; stroke: #000000; stroke-width: 1.2"/>
<use href="#m9e8f64cb88" x="232.531113" y="505.711906" style="fill: #10a2f0; opacity: 0.8; stroke: #000000; stroke-width: 1.2"/>
<use href="#m9e8f64cb88" x="209.106452" y="495.422456" style="fill: #10a2f0; opacity: 0.8; stroke: #000000; stroke-width: 1.2"/>
<use href="#m9e8f64cb88" x="191.49908" y="489.021386" style="fill: #10a2f0; opacity: 0.8; stroke: #000000; stroke-width: 1.2"/>
<use href="#m9e8f64cb88" x="177.759186" y="484.778337" style="fill: #10a2f0; opacity: 0.8; stroke: #000000; stroke-width: 1.2"/>
<use href="#m9e8f64cb88" x="166.7276" y="481.828073" style="fill: #10a2f0; opacity: 0.8; stroke: #000000; stroke-width: 1.2"/>
</g>
</g>
<g id="PathCollection_4">
<defs>
<path id="mdc4461cee2" d="M -0 5 L 5 0 L 0 -5 L -5 -0 z
" style="stroke: #000000; stroke-width: 1.2"/>
</defs>
<g clip-path="url(#p1205e213a5)">
<use href="#mdc4461cee2" x="371.350799" y="622.930067" style="fill: #2adddd; opacity: 0.8; stroke: #000000; stroke-width: 1.2"/>
<use href="#mdc4461cee2" x="296.436899" y="546.573967" style="fill: #2adddd; opacity: 0.8; stroke: #000000; stroke-width: 1.2"/>
<use href="#mdc4461cee2" x="252.374411" y="516.572028" style="fill: #2adddd; opacity: 0.8; stroke: #000000; stroke-width: 1.2"/>
<use href="#mdc4461cee2" x="222.916449" y="501.433069" style="fill: #2adddd; opacity: 0.8; stroke: #000000; stroke-width: 1.2"/>
<use href="#mdc4461cee2" x="201.681415" y="492.685682" style="fill: #2adddd; opacity: 0.8; stroke: #000000; stroke-width: 1.2"/>
<use href="#mdc4461cee2" x="185.584963" y="487.170148" style="fill: #2adddd; opacity: 0.8; stroke: #000000; stroke-width: 1.2"/>
<use href="#mdc4461cee2" x="172.933839" y="483.471064" style="fill: #2adddd; opacity: 0.8; stroke: #000000; stroke-width: 1.2"/>
</g>
</g>
<g id="PathCollection_5">
<defs>
<path id="mad83f73330" d="M -0 3.535534 L 3.535534 -3.535534 L -3.535534 -3.535534 z
" style="stroke: #000000; stroke-width: 1.2"/>
</defs>
<g clip-path="url(#p1205e213a5)">
<use href="#mad83f73330" x="348.582406" y="601.105847" style="fill: #62fbc4; opacity: 0.8; stroke: #000000; stroke-width: 1.2"/>
<use href="#mad83f73330" x="281.451678" y="536.529511" style="fill: #62fbc4; opacity: 0.8; stroke: #000000; stroke-width: 1.2"/>
<use href="#mad83f73330" x="241.624889" y="511.057742" style="fill: #62fbc4; opacity: 0.8; stroke: #000000; stroke-width: 1.2"/>
<use href="#mad83f73330" x="214.782728" y="498.070733" style="fill: #62fbc4; opacity: 0.8; stroke: #000000; stroke-width: 1.2"/>
<use href="#mad83f73330" x="195.293438" y="490.484248" style="fill: #62fbc4; opacity: 0.8; stroke: #000000; stroke-width: 1.2"/>
<use href="#mad83f73330" x="180.42645" y="485.651887" style="fill: #62fbc4; opacity: 0.8; stroke: #000000; stroke-width: 1.2"/>
</g>
</g>
<g id="PathCollection_6">
<defs>
<path id="m575c3f739f" d="M 0 -3.535534 L -0.793777 -1.09254 L -3.362493 -1.09254 L -1.284358 0.417313 L -2.078135 2.860307 L -0 1.350454 L 2.078135 2.860307 L 1.284358 0.417313 L 3.362493 -1.09254 L 0.793777 -1.09254 z
" style="stroke: #000000; stroke-width: 1.2"/>
</defs>
<g clip-path="url(#p1205e213a5)">
<use href="#m575c3f739f" x="330.229333" y="584.732638" style="fill: #9cfba4; opacity: 0.8; stroke: #000000; stroke-width: 1.2"/>
<use href="#m575c3f739f" x="269.039199" y="528.8115" style="fill: #9cfba4; opacity: 0.8; stroke: #000000; stroke-width: 1.2"/>
<use href="#m575c3f739f" x="232.531113" y="506.71135" style="fill: #9cfba4; opacity: 0.8; stroke: #000000; stroke-width: 1.2"/>
<use href="#m575c3f739f" x="207.78505" y="495.361022" style="fill: #9cfba4; opacity: 0.8; stroke: #000000; stroke-width: 1.2"/>
<use href="#m575c3f739f" x="189.721607" y="488.676446" style="fill: #9cfba4; opacity: 0.8; stroke: #000000; stroke-width: 1.2"/>
</g>
</g>
<g id="PathCollection_7">
<defs>
<path id="m4f0f06e88a" d="M -1.178511 3.535534 L 1.178511 3.535534 L 1.178511 1.178511 L 3.535534 1.178511 L 3.535534 -1.178511 L 1.178511 -1.178511 L 1.178511 -3.535534 L -1.178511 -3.535534 L -1.178511 -1.178511 L -3.535534 -1.178511 L -3.535534 1.178511 L -1.178511 1.178511 z
" style="stroke: #000000; stroke-width: 1.2"/>
</defs>
<g clip-path="url(#p1205e213a5)">
<use href="#m4f0f06e88a" x="315.027214" y="571.997482" style="fill: #d4dd80; opacity: 0.8; stroke: #000000; stroke-width: 1.2"/>
<use href="#m4f0f06e88a" x="258.538612" y="522.698585" style="fill: #d4dd80; opacity: 0.8; stroke: #000000; stroke-width: 1.2"/>
<use href="#m4f0f06e88a" x="224.707471" y="503.199463" style="fill: #d4dd80; opacity: 0.8; stroke: #000000; stroke-width: 1.2"/>
<use href="#m4f0f06e88a" x="201.681415" y="493.132147" style="fill: #d4dd80; opacity: 0.8; stroke: #000000; stroke-width: 1.2"/>
</g>
</g>
<g id="PathCollection_8">
<defs>
<path id="m84d82134be" d="M -1.767767 3.535534 L 0 1.767767 L 1.767767 3.535534 L 3.535534 1.767767 L 1.767767 0 L 3.535534 -1.767767 L 1.767767 -3.535534 L 0 -1.767767 L -1.767767 -3.535534 L -3.535534 -1.767767 L -1.767767 0 L -3.535534 1.767767 z
" style="stroke: #000000; stroke-width: 1.2"/>
</defs>
<g clip-path="url(#p1205e213a5)">
<use href="#m84d82134be" x="302.166673" y="561.810823" style="fill: #ffa256; opacity: 0.8; stroke: #000000; stroke-width: 1.2"/>
<use href="#m84d82134be" x="249.504648" y="517.73919" style="fill: #ffa256; opacity: 0.8; stroke: #000000; stroke-width: 1.2"/>
<use href="#m84d82134be" x="217.8834" y="500.304222" style="fill: #ffa256; opacity: 0.8; stroke: #000000; stroke-width: 1.2"/>
</g>
</g>
<g id="PathCollection_9">
<defs>
<path id="m8f4c476fff" d="M 0 3.535534 C 0.937635 3.535534 1.836992 3.163008 2.5 2.5 C 3.163008 1.836992 3.535534 0.937635 3.535534 0 C 3.535534 -0.937635 3.163008 -1.836992 2.5 -2.5 C 1.836992 -3.163008 0.937635 -3.535534 0 -3.535534 C -0.937635 -3.535534 -1.836992 -3.163008 -2.5 -2.5 C -3.163008 -1.836992 -3.535534 -0.937635 -3.535534 0 C -3.535534 0.937635 -3.163008 1.836992 -2.5 2.5 C -1.836992 3.163008 -0.937635 3.535534 0 3.535534 z
" style="stroke: #000000; stroke-width: 1.2"/>
</defs>
<g clip-path="url(#p1205e213a5)">
<use href="#m8f4c476fff" x="291.102372" y="553.478475" style="fill: #ff562c; opacity: 0.8; stroke: #000000; stroke-width: 1.2"/>
<use href="#m8f4c476fff" x="241.624889" y="513.636299" style="fill: #ff562c; opacity: 0.8; stroke: #000000; stroke-width: 1.2"/>
</g>
</g>
<g id="PathCollection_10">
<defs>
<path id="m8a9e0acf4e" d="M -3.535534 3.535534 L 3.535534 3.535534 L 3.535534 -3.535534 L -3.535534 -3.535534 z
" style="stroke: #000000; stroke-width: 1.2"/>
</defs>
<g clip-path="url(#p1205e213a5)">
<use href="#m8a9e0acf4e" x="281.451678" y="546.537233" style="fill: #ff0000; opacity: 0.8; stroke: #000000; stroke-width: 1.2"/>
</g>
</g>
<g id="PathCollection_11">
<defs>
<path id="m2e836ae7ef" d="M 0 3.535534 C 0.937635 3.535534 1.836992 3.163008 2.5 2.5 C 3.163008 1.836992 3.535534 0.937635 3.535534 0 C 3.535534 -0.937635 3.163008 -1.836992 2.5 -2.5 C 1.836992 -3.163008 0.937635 -3.535534 0 -3.535534 C -0.937635 -3.535534 -1.836992 -3.163008 -2.5 -2.5 C -3.163008 -1.836992 -3.535534 -0.937635 -3.535534 0 C -3.535534 0.937635 -3.163008 1.836992 -2.5 2.5 C -1.836992 3.163008 -0.937635 3.535534 0 3.535534 z
" style="stroke: #0000ff; stroke-width: 1.2"/>
</defs>
<g clip-path="url(#p1205e213a5)">
<use href="#m2e836ae7ef" x="64.416" y="470.834365" style="fill: #0000ff; stroke: #0000ff; stroke-width: 1.2"/>
</g>
</g>
<g id="matplotlib.axis_3">
<g id="xtick_7">
<g id="line2d_53">
<path d="M 64.416 808.68 L 64.416 452.544 " clip-path="url(#p1205e213a5)" style="fill: none; stroke: #b0b0b0; stroke-width: 0.9; stroke-linecap: square"/>
</g>
<g id="line2d_54">
<g>
<use href="#mcb6896031c" x="64.416" y="808.68" style="stroke: #000000; stroke-width: 1.1"/>
</g>
</g>
<g id="text_29">
<text style="font-size: 14px; font-family: 'DejaVu Sans', sans-serif; text-anchor: middle" x="64.416" y="826.317813" transform="rotate(-0 64.416 826.317813)">0.00</text>
</g>
</g>
<g id="xtick_8">
<g id="line2d_55">
<path d="M 117.578667 808.68 L 117.578667 452.544 " clip-path="url(#p1205e213a5)" style="fill: none; stroke: #b0b0b0; stroke-width: 0.9; stroke-linecap: square"/>
</g>
<g id="line2d_56">
<g>
<use href="#mcb6896031c" x="117.578667" y="808.68" style="stroke: #000000; stroke-width: 1.1"/>
</g>
</g>
<g id="text_30">
<text style="font-size: 14px; font-family: 'DejaVu Sans', sans-serif; text-anchor: middle" x="117.578667" y="826.317813" transform="rotate(-0 117.578667 826.317813)">0.05</text>
</g>
</g>
<g id="xtick_9">
<g id="line2d_57">
<path d="M 170.741333 808.68 L 170.741333 452.544 " clip-path="url(#p1205e213a5)" style="fill: none; stroke: #b0b0b0; stroke-width: 0.9; stroke-linecap: square"/>
</g>
<g id="line2d_58">
<g>
<use href="#mcb6896031c" x="170.741333" y="808.68" style="stroke: #000000; stroke-width: 1.1"/>
</g>
</g>
<g id="text_31">
<text style="font-size: 14px; font-family: 'DejaVu Sans', sans-serif; text-anchor: middle" x="170.741333" y="826.317813" transform="rotate(-0 170.741333 826.317813)">0.10</text>
</g>
</g>
<g id="xtick_10">
<g id="line2d_59">
<path d="M 223.904 808.68 L 223.904 452.544 " clip-path="url(#p1205e213a5)" style="fill: none; stroke: #b0b0b0; stroke-width: 0.9; stroke-linecap: square"/>
</g>
<g id="line2d_60">
<g>
<use href="#mcb6896031c" x="223.904" y="808.68" style="stroke: #000000; stroke-width: 1.1"/>
</g>
</g>
<g id="text_32">
<text style="font-size: 14px; font-family: 'DejaVu Sans', sans-serif; text-anchor: middle" x="223.904" y="826.317813" transform="rotate(-0 223.904 826.317813)">0.15</text>
</g>
</g>
<g id="xtick_11">
<g id="line2d_61">
<path d="M 277.066667 808.68 L 277.066667 452.544 " clip-path="url(#p1205e213a5)" style="fill: none; stroke: #b0b0b0; stroke-width: 0.9; stroke-linecap: square"/>
</g>
<g id="line2d_62">
<g>
<use href="#mcb6896031c" x="277.066667" y="808.68" style="stroke: #000000; stroke-width: 1.1"/>
</g>
</g>
<g id="text_33">
<text style="font-size: 14px; font-family: 'DejaVu Sans', sans-serif; text-anchor: middle" x="277.066667" y="826.317813" transform="rotate(-0 277.066667 826.317813)">0.20</text>
</g>
</g>
<g id="xtick_12">
<g id="line2d_63">
<path d="M 330.229333 808.68 L 330.229333 452.544 " clip-path="url(#p1205e213a5)" style="fill: none; stroke: #b0b0b0; stroke-width: 0.9; stroke-linecap: square"/>
</g>
<g id="line2d_64">
<g>
<use href="#mcb6896031c" x="330.229333" y="808.68" style="stroke: #000000; stroke-width: 1.1"/>
</g>
</g>
<g id="text_34">
<text style="font-size: 14px; font-family: 'DejaVu Sans', sans-serif; text-anchor: middle" x="330.229333" y="826.317813" transform="rotate(-0 330.229333 826.317813)">0.25</text>
</g>
</g>
<g id="xtick_13">
<g id="line2d_65">
<path d="M 383.392 808.68 L 383.392 452.544 " clip-path="url(#p1205e213a5)" style="fill: none; stroke: #b0b0b0; stroke-width: 0.9; stroke-linecap: square"/>
</g>
<g id="line2d_66">
<g>
<use href="#mcb6896031c" x="383.392" y="808.68" style="stroke: #000000; stroke-width: 1.1"/>
</g>
</g>
<g id="text_35">
<text style="font-size: 14px; font-family: 'DejaVu Sans', sans-serif; text-anchor: middle" x="383.392" y="826.317813" transform="rotate(-0 383.392 826.317813)">0.30</text>
</g>
</g>
<g id="xtick_14">
<g id="line2d_67">
<path d="M 436.554667 808.68 L 436.554667 452.544 " clip-path="url(#p1205e213a5)" style="fill: none; stroke: #b0b0b0; stroke-width: 0.9; stroke-linecap: square"/>
</g>
<g id="line2d_68">
<g>
<use href="#mcb6896031c" x="436.554667" y="808.68" style="stroke: #000000; stroke-width: 1.1"/>
</g>
</g>
<g id="text_36">
<text style="font-size: 14px; font-family: 'DejaVu Sans', sans-serif; text-anchor: middle" x="436.554667" y="826.317813" transform="rotate(-0 436.554667 826.317813)">0.35</text>
</g>
</g>
<g id="xtick_15">
<g id="line2d_69">
<path d="M 489.717333 808.68 L 489.717333 452.544 " clip-path="url(#p1205e213a5)" style="fill: none; stroke: #b0b0b0; stroke-width: 0.9; stroke-linecap: square"/>
</g>
<g id="line2d_70">
<g>
<use href="#mcb6896031c" x="489.717333" y="808.68" style="stroke: #000000; stroke-width: 1.1"/>
</g>
</g>
<g id="text_37">
<text style="font-size: 14px; font-family: 'DejaVu Sans', sans-serif; text-anchor: middle" x="489.717333" y="826.317813" transform="rotate(-0 489.717333 826.317813)">0.40</text>
</g>
</g>
<g id="xtick_16">
<g id="line2d_71">
<path d="M 542.88 808.68 L 542.88 452.544 " clip-path="url(#p1205e213a5)" style="fill: none; stroke: #b0b0b0; stroke-width: 0.9; stroke-linecap: square"/>
</g>
<g id="line2d_72">
<g>
<use href="#mcb6896031c" x="542.88" y="808.68" style="stroke: #000000; stroke-width: 1.1"/>
</g>
</g>
<g id="text_38">
<text style="font-size: 14px; font-family: 'DejaVu Sans', sans-serif; text-anchor: middle" x="542.88" y="826.317813" transform="rotate(-0 542.88 826.317813)">0.45</text>
</g>
</g>
<g id="text_39">
<!-- $1/(N_i \cdot N_j)^{0.5}$ (-) -->
<g transform="translate(247.568 847.789375)">
<text>
<tspan x="0" y="-0.5625" style="font-size: 16px; font-family: 'DejaVu Sans', sans-serif">1</tspan>
<tspan x="10.179688" y="-0.5625" style="font-size: 16px; font-family: 'DejaVu Sans', sans-serif">/</tspan>
<tspan x="15.570312" y="-0.5625" style="font-size: 16px; font-family: 'DejaVu Sans', sans-serif">(</tspan>
<tspan x="40.447656" y="-0.5625" style="font-size: 16px; font-family: 'DejaVu Sans', sans-serif">⋅</tspan>
<tspan x="64.16875" y="-0.5625" style="font-size: 16px; font-family: 'DejaVu Sans', sans-serif">)</tspan>
<tspan x="88.813281" y="-0.5625" style="font-size: 16px; font-family: 'DejaVu Sans', sans-serif"> </tspan>
<tspan x="93.899219" y="-0.5625" style="font-size: 16px; font-family: 'DejaVu Sans', sans-serif">(</tspan>
<tspan x="100.141406" y="-0.5625" style="font-size: 16px; font-family: 'DejaVu Sans', sans-serif">-</tspan>
<tspan x="105.914844" y="-0.5625" style="font-size: 16px; font-family: 'DejaVu Sans', sans-serif">)</tspan>
<tspan x="21.8125" y="-0.5625" style="font-style: oblique; font-size: 16px; font-family: 'DejaVu Sans', sans-serif">N</tspan>
<tspan x="48.650781" y="-0.5625" style="font-style: oblique; font-size: 16px; font-family: 'DejaVu Sans', sans-serif">N</tspan>
<tspan x="33.78125" y="2.0625" style="font-style: oblique; font-size: 11.2px; font-family: 'DejaVu Sans', sans-serif">i</tspan>
<tspan x="60.619531" y="2.0625" style="font-style: oblique; font-size: 11.2px; font-family: 'DejaVu Sans', sans-serif">j</tspan>
<tspan x="70.564063" y="-6.6875" style="font-size: 11.2px; font-family: 'DejaVu Sans', sans-serif">0</tspan>
<tspan x="77.689844" y="-6.6875" style="font-size: 11.2px; font-family: 'DejaVu Sans', sans-serif">.</tspan>
<tspan x="81.25" y="-6.6875" style="font-size: 11.2px; font-family: 'DejaVu Sans', sans-serif">5</tspan>
</text>
</g>
</g>
</g>
<g id="matplotlib.axis_4">
<g id="ytick_9">
<g id="line2d_73">
<path d="M 64.416 808.68 L 542.88 808.68 " clip-path="url(#p1205e213a5)" style="fill: none; stroke: #b0b0b0; stroke-width: 0.9; stroke-linecap: square"/>
</g>
<g id="line2d_74">
<g>
<use href="#mef8e797f4b" x="64.416" y="808.68" style="stroke: #000000; stroke-width: 1.1"/>
</g>
</g>
<g id="text_40">
<text style="font-size: 14px; font-family: 'DejaVu Sans', sans-serif; text-anchor: end" x="57.416" y="813.998906" transform="rotate(-0 57.416 813.998906)">1.7</text>
</g>
</g>
<g id="ytick_10">
<g id="line2d_75">
<path d="M 64.416 749.324 L 542.88 749.324 " clip-path="url(#p1205e213a5)" style="fill: none; stroke: #b0b0b0; stroke-width: 0.9; stroke-linecap: square"/>
</g>
<g id="line2d_76">
<g>
<use href="#mef8e797f4b" x="64.416" y="749.324" style="stroke: #000000; stroke-width: 1.1"/>
</g>
</g>
<g id="text_41">
<text style="font-size: 14px; font-family: 'DejaVu Sans', sans-serif; text-anchor: end" x="57.416" y="754.642906" transform="rotate(-0 57.416 754.642906)">1.8</text>
</g>
</g>
<g id="ytick_11">
<g id="line2d_77">
<path d="M 64.416 689.968 L 542.88 689.968 " clip-path="url(#p1205e213a5)" style="fill: none; stroke: #b0b0b0; stroke-width: 0.9; stroke-linecap: square"/>
</g>
<g id="line2d_78">
<g>
<use href="#mef8e797f4b" x="64.416" y="689.968" style="stroke: #000000; stroke-width: 1.1"/>
</g>
</g>
<g id="text_42">
<text style="font-size: 14px; font-family: 'DejaVu Sans', sans-serif; text-anchor: end" x="57.416" y="695.286906" transform="rotate(-0 57.416 695.286906)">1.9</text>
</g>
</g>
<g id="ytick_12">
<g id="line2d_79">
<path d="M 64.416 630.612 L 542.88 630.612 " clip-path="url(#p1205e213a5)" style="fill: none; stroke: #b0b0b0; stroke-width: 0.9; stroke-linecap: square"/>
</g>
<g id="line2d_80">
<g>
<use href="#mef8e797f4b" x="64.416" y="630.612" style="stroke: #000000; stroke-width: 1.1"/>
</g>
</g>
<g id="text_43">
<text style="font-size: 14px; font-family: 'DejaVu Sans', sans-serif; text-anchor: end" x="57.416" y="635.930906" transform="rotate(-0 57.416 635.930906)">2.0</text>
</g>
</g>
<g id="ytick_13">
<g id="line2d_81">
<path d="M 64.416 571.256 L 542.88 571.256 " clip-path="url(#p1205e213a5)" style="fill: none; stroke: #b0b0b0; stroke-width: 0.9; stroke-linecap: square"/>
</g>
<g id="line2d_82">
<g>
<use href="#mef8e797f4b" x="64.416" y="571.256" style="stroke: #000000; stroke-width: 1.1"/>
</g>
</g>
<g id="text_44">
<text style="font-size: 14px; font-family: 'DejaVu Sans', sans-serif; text-anchor: end" x="57.416" y="576.574906" transform="rotate(-0 57.416 576.574906)">2.1</text>
</g>
</g>
<g id="ytick_14">
<g id="line2d_83">
<path d="M 64.416 511.9 L 542.88 511.9 " clip-path="url(#p1205e213a5)" style="fill: none; stroke: #b0b0b0; stroke-width: 0.9; stroke-linecap: square"/>
</g>
<g id="line2d_84">
<g>
<use href="#mef8e797f4b" x="64.416" y="511.9" style="stroke: #000000; stroke-width: 1.1"/>
</g>
</g>
<g id="text_45">
<text style="font-size: 14px; font-family: 'DejaVu Sans', sans-serif; text-anchor: end" x="57.416" y="517.218906" transform="rotate(-0 57.416 517.218906)">2.2</text>
</g>
</g>
<g id="ytick_15">
<g id="line2d_85">
<path d="M 64.416 452.544 L 542.88 452.544 " clip-path="url(#p1205e213a5)" style="fill: none; stroke: #b0b0b0; stroke-width: 0.9; stroke-linecap: square"/>
</g>
<g id="line2d_86">
<g>
<use href="#mef8e797f4b" x="64.416" y="452.544" style="stroke: #000000; stroke-width: 1.1"/>
</g>
</g>
<g id="text_46">
<text style="font-size: 14px; font-family: 'DejaVu Sans', sans-serif; text-anchor: end" x="57.416" y="457.862906" transform="rotate(-0 57.416 457.862906)">2.3</text>
</g>
</g>
<g id="text_47">
<!-- Crossing temperature $T_\mathrm{U}^{(i,j)}$ (-) -->
<g transform="translate(26.511625 748.372) rotate(-90)">
<text>
<tspan x="0" y="-0.365625" style="font-size: 16px; font-family: 'DejaVu Sans', sans-serif">C</tspan>
<tspan x="11.171875" y="-0.365625" style="font-size: 16px; font-family: 'DejaVu Sans', sans-serif">r</tspan>
<tspan x="17.75" y="-0.365625" style="font-size: 16px; font-family: 'DejaVu Sans', sans-serif">o</tspan>
<tspan x="27.539062" y="-0.365625" style="font-size: 16px; font-family: 'DejaVu Sans', sans-serif">s</tspan>
<tspan x="35.875" y="-0.365625" style="font-size: 16px; font-family: 'DejaVu Sans', sans-serif">s</tspan>
<tspan x="44.210938" y="-0.365625" style="font-size: 16px; font-family: 'DejaVu Sans', sans-serif">i</tspan>
<tspan x="48.65625" y="-0.365625" style="font-size: 16px; font-family: 'DejaVu Sans', sans-serif">n</tspan>
<tspan x="58.796875" y="-0.365625" style="font-size: 16px; font-family: 'DejaVu Sans', sans-serif">g</tspan>
<tspan x="68.953125" y="-0.365625" style="font-size: 16px; font-family: 'DejaVu Sans', sans-serif"> </tspan>
<tspan x="74.039062" y="-0.365625" style="font-size: 16px; font-family: 'DejaVu Sans', sans-serif">t</tspan>
<tspan x="80.3125" y="-0.365625" style="font-size: 16px; font-family: 'DejaVu Sans', sans-serif">e</tspan>
<tspan x="90.15625" y="-0.365625" style="font-size: 16px; font-family: 'DejaVu Sans', sans-serif">m</tspan>
<tspan x="105.742188" y="-0.365625" style="font-size: 16px; font-family: 'DejaVu Sans', sans-serif">p</tspan>
<tspan x="115.898438" y="-0.365625" style="font-size: 16px; font-family: 'DejaVu Sans', sans-serif">e</tspan>
<tspan x="125.742188" y="-0.365625" style="font-size: 16px; font-family: 'DejaVu Sans', sans-serif">r</tspan>
<tspan x="132.320312" y="-0.365625" style="font-size: 16px; font-family: 'DejaVu Sans', sans-serif">a</tspan>
<tspan x="142.125" y="-0.365625" style="font-size: 16px; font-family: 'DejaVu Sans', sans-serif">t</tspan>
<tspan x="148.398438" y="-0.365625" style="font-size: 16px; font-family: 'DejaVu Sans', sans-serif">u</tspan>
<tspan x="158.539062" y="-0.365625" style="font-size: 16px; font-family: 'DejaVu Sans', sans-serif">r</tspan>
<tspan x="165.117188" y="-0.365625" style="font-size: 16px; font-family: 'DejaVu Sans', sans-serif">e</tspan>
<tspan x="174.960938" y="-0.365625" style="font-size: 16px; font-family: 'DejaVu Sans', sans-serif"> </tspan>
<tspan x="212.086146" y="-0.365625" style="font-size: 16px; font-family: 'DejaVu Sans', sans-serif"> </tspan>
<tspan x="217.172083" y="-0.365625" style="font-size: 16px; font-family: 'DejaVu Sans', sans-serif">(</tspan>
<tspan x="223.414271" y="-0.365625" style="font-size: 16px; font-family: 'DejaVu Sans', sans-serif">-</tspan>
<tspan x="229.187708" y="-0.365625" style="font-size: 16px; font-family: 'DejaVu Sans', sans-serif">)</tspan>
<tspan x="180.046875" y="-0.365625" style="font-style: oblique; font-size: 16px; font-family: 'DejaVu Sans', sans-serif">T</tspan>
<tspan x="189.820312" y="4.009375" style="font-size: 11.2px; font-family: 'DejaVu Sans', sans-serif">U</tspan>
<tspan x="190.943958" y="-8.490625" style="font-size: 11.2px; font-family: 'DejaVu Sans', sans-serif">(</tspan>
<tspan x="198.425208" y="-8.490625" style="font-size: 11.2px; font-family: 'DejaVu Sans', sans-serif">,</tspan>
<tspan x="207.279115" y="-8.490625" style="font-size: 11.2px; font-family: 'DejaVu Sans', sans-serif">)</tspan>
<tspan x="195.31349" y="-8.490625" style="font-style: oblique; font-size: 11.2px; font-family: 'DejaVu Sans', sans-serif">i</tspan>
<tspan x="204.167396" y="-8.490625" style="font-style: oblique; font-size: 11.2px; font-family: 'DejaVu Sans', sans-serif">j</tspan>
</text>
</g>
</g>
</g>
<g id="line2d_87">
<path d="M 64.416 469.11871 L 72.41707 468.633726 L 80.41814 468.381681 L 88.419211 468.362577 L 96.420281 468.576412 L 104.421351 469.023188 L 112.422421 469.702903 L 120.423492 470.615558 L 128.424562 471.761154 L 136.425632 473.139689 L 144.426702 474.751165 L 152.427773 476.59558 L 160.428843 478.672936 L 168.429913 480.983231 L 176.430983 483.526467 L 184.432054 486.302642 L 192.433124 489.311758 L 200.434194 492.553814 L 208.435264 496.028809 L 216.436334 499.736745 L 224.437405 503.67762 L 232.438475 507.851436 L 240.439545 512.258191 L 248.440615 516.897887 L 256.441686 521.770523 L 264.442756 526.876098 L 272.443826 532.214614 L 280.444896 537.786069 L 288.445967 543.590465 L 296.447037 549.627801 L 306.048321 557.180084 L 315.649605 565.067801 L 325.25089 573.290952 L 334.852174 581.849537 L 344.453458 590.743555 L 354.054742 599.973006 L 363.656027 609.537892 L 373.257311 619.43821 L 382.858595 629.673963 L 392.45988 640.245149 L 402.061164 651.151769 L 411.662448 662.393822 L 421.263732 673.971309 L 430.865017 685.88423 L 440.466301 698.132584 L 450.067585 710.716371 L 459.66887 723.635593 L 469.270154 736.890248 L 478.871438 750.480336 L 488.472722 764.405859 L 499.674221 781.076252 L 510.875719 798.203208 L 522.077217 815.786726 L 533.278716 833.826807 L 542.88 849.653119 L 542.88 849.653119 " clip-path="url(#p1205e213a5)" style="fill: none; stroke: #ff0000; stroke-width: 1.9; stroke-linecap: square"/>
</g>
<g id="patch_9">
<path d="M 64.416 808.68 L 64.416 452.544 " style="fill: none; stroke: #000000; stroke-width: 1.1; stroke-linejoin: miter; stroke-linecap: square"/>
</g>
<g id="patch_10">
<path d="M 542.88 808.68 L 542.88 452.544 " style="fill: none; stroke: #000000; stroke-width: 1.1; stroke-linejoin: miter; stroke-linecap: square"/>
</g>
<g id="patch_11">
<path d="M 64.416 808.68 L 542.88 808.68 " style="fill: none; stroke: #000000; stroke-width: 1.1; stroke-linejoin: miter; stroke-linecap: square"/>
</g>
<g id="patch_12">
<path d="M 64.416 452.544 L 542.88 452.544 " style="fill: none; stroke: #000000; stroke-width: 1.1; stroke-linejoin: miter; stroke-linecap: square"/>
</g>
<g id="legend_2">
<g id="patch_13">
<path d="M 71.416 803.68 L 154.316 803.68 Q 156.316 803.68 156.316 801.68 L 156.316 627.42375 Q 156.316 625.42375 154.316 625.42375 L 71.416 625.42375 Q 69.416 625.42375 69.416 627.42375 L 69.416 801.68 Q 69.416 803.68 71.416 803.68 z
" style="fill: #ffffff; opacity: 0.8; stroke: #cccccc; stroke-linejoin: miter"/>
</g>
<g id="PathCollection_12">
<g>
<use href="#m0f5d2a5afa" x="83.416" y="634.39875" style="fill: #8000ff; opacity: 0.8; stroke: #000000; stroke-width: 1.2"/>
</g>
</g>
<g id="text_48">
<!-- $\Delta$(i,j) = 1 -->
<g transform="translate(101.416 637.02375)">
<text>
<tspan x="0" y="-0.40625" style="font-size: 10px; font-family: 'DejaVu Sans', sans-serif">Δ</tspan>
<tspan x="6.84082" y="-0.40625" style="font-size: 10px; font-family: 'DejaVu Sans', sans-serif">(</tspan>
<tspan x="10.742188" y="-0.40625" style="font-size: 10px; font-family: 'DejaVu Sans', sans-serif">i</tspan>
<tspan x="13.520508" y="-0.40625" style="font-size: 10px; font-family: 'DejaVu Sans', sans-serif">,</tspan>
<tspan x="16.699219" y="-0.40625" style="font-size: 10px; font-family: 'DejaVu Sans', sans-serif">j</tspan>
<tspan x="19.477539" y="-0.40625" style="font-size: 10px; font-family: 'DejaVu Sans', sans-serif">)</tspan>
<tspan x="23.378906" y="-0.40625" style="font-size: 10px; font-family: 'DejaVu Sans', sans-serif"> </tspan>
<tspan x="26.557617" y="-0.40625" style="font-size: 10px; font-family: 'DejaVu Sans', sans-serif">=</tspan>
<tspan x="34.936523" y="-0.40625" style="font-size: 10px; font-family: 'DejaVu Sans', sans-serif"> </tspan>
<tspan x="38.115234" y="-0.40625" style="font-size: 10px; font-family: 'DejaVu Sans', sans-serif">1</tspan>
</text>
</g>
</g>
<g id="PathCollection_13">
<g>
<use href="#mfa34a29277" x="83.416" y="648.99875" style="fill: #4856fb; opacity: 0.8; stroke: #000000; stroke-width: 1.2"/>
</g>
</g>
<g id="text_49">
<!-- $\Delta$(i,j) = 2 -->
<g transform="translate(101.416 651.62375)">
<text>
<tspan x="0" y="-0.40625" style="font-size: 10px; font-family: 'DejaVu Sans', sans-serif">Δ</tspan>
<tspan x="6.84082" y="-0.40625" style="font-size: 10px; font-family: 'DejaVu Sans', sans-serif">(</tspan>
<tspan x="10.742188" y="-0.40625" style="font-size: 10px; font-family: 'DejaVu Sans', sans-serif">i</tspan>
<tspan x="13.520508" y="-0.40625" style="font-size: 10px; font-family: 'DejaVu Sans', sans-serif">,</tspan>
<tspan x="16.699219" y="-0.40625" style="font-size: 10px; font-family: 'DejaVu Sans', sans-serif">j</tspan>
<tspan x="19.477539" y="-0.40625" style="font-size: 10px; font-family: 'DejaVu Sans', sans-serif">)</tspan>
<tspan x="23.378906" y="-0.40625" style="font-size: 10px; font-family: 'DejaVu Sans', sans-serif"> </tspan>
<tspan x="26.557617" y="-0.40625" style="font-size: 10px; font-family: 'DejaVu Sans', sans-serif">=</tspan>
<tspan x="34.936523" y="-0.40625" style="font-size: 10px; font-family: 'DejaVu Sans', sans-serif"> </tspan>
<tspan x="38.115234" y="-0.40625" style="font-size: 10px; font-family: 'DejaVu Sans', sans-serif">2</tspan>
</text>
</g>
</g>
<g id="PathCollection_14">
<g>
<use href="#m9e8f64cb88" x="83.416" y="663.59875" style="fill: #10a2f0; opacity: 0.8; stroke: #000000; stroke-width: 1.2"/>
</g>
</g>
<g id="text_50">
<!-- $\Delta$(i,j) = 3 -->
<g transform="translate(101.416 666.22375)">
<text>
<tspan x="0" y="-0.40625" style="font-size: 10px; font-family: 'DejaVu Sans', sans-serif">Δ</tspan>
<tspan x="6.84082" y="-0.40625" style="font-size: 10px; font-family: 'DejaVu Sans', sans-serif">(</tspan>
<tspan x="10.742188" y="-0.40625" style="font-size: 10px; font-family: 'DejaVu Sans', sans-serif">i</tspan>
<tspan x="13.520508" y="-0.40625" style="font-size: 10px; font-family: 'DejaVu Sans', sans-serif">,</tspan>
<tspan x="16.699219" y="-0.40625" style="font-size: 10px; font-family: 'DejaVu Sans', sans-serif">j</tspan>
<tspan x="19.477539" y="-0.40625" style="font-size: 10px; font-family: 'DejaVu Sans', sans-serif">)</tspan>
<tspan x="23.378906" y="-0.40625" style="font-size: 10px; font-family: 'DejaVu Sans', sans-serif"> </tspan>
<tspan x="26.557617" y="-0.40625" style="font-size: 10px; font-family: 'DejaVu Sans', sans-serif">=</tspan>
<tspan x="34.936523" y="-0.40625" style="font-size: 10px; font-family: 'DejaVu Sans', sans-serif"> </tspan>
<tspan x="38.115234" y="-0.40625" style="font-size: 10px; font-family: 'DejaVu Sans', sans-serif">3</tspan>
</text>
</g>
</g>
<g id="PathCollection_15">
<g>
<use href="#mdc4461cee2" x="83.416" y="678.19875" style="fill: #2adddd; opacity: 0.8; stroke: #000000; stroke-width: 1.2"/>
</g>
</g>
<g id="text_51">
<!-- $\Delta$(i,j) = 4 -->
<g transform="translate(101.416 680.82375)">
<text>
<tspan x="0" y="-0.40625" style="font-size: 10px; font-family: 'DejaVu Sans', sans-serif">Δ</tspan>
<tspan x="6.84082" y="-0.40625" style="font-size: 10px; font-family: 'DejaVu Sans', sans-serif">(</tspan>
<tspan x="10.742188" y="-0.40625" style="font-size: 10px; font-family: 'DejaVu Sans', sans-serif">i</tspan>
<tspan x="13.520508" y="-0.40625" style="font-size: 10px; font-family: 'DejaVu Sans', sans-serif">,</tspan>
<tspan x="16.699219" y="-0.40625" style="font-size: 10px; font-family: 'DejaVu Sans', sans-serif">j</tspan>
<tspan x="19.477539" y="-0.40625" style="font-size: 10px; font-family: 'DejaVu Sans', sans-serif">)</tspan>
<tspan x="23.378906" y="-0.40625" style="font-size: 10px; font-family: 'DejaVu Sans', sans-serif"> </tspan>
<tspan x="26.557617" y="-0.40625" style="font-size: 10px; font-family: 'DejaVu Sans', sans-serif">=</tspan>
<tspan x="34.936523" y="-0.40625" style="font-size: 10px; font-family: 'DejaVu Sans', sans-serif"> </tspan>
<tspan x="38.115234" y="-0.40625" style="font-size: 10px; font-family: 'DejaVu Sans', sans-serif">4</tspan>
</text>
</g>
</g>
<g id="PathCollection_16">
<g>
<use href="#mad83f73330" x="83.416" y="692.79875" style="fill: #62fbc4; opacity: 0.8; stroke: #000000; stroke-width: 1.2"/>
</g>
</g>
<g id="text_52">
<!-- $\Delta$(i,j) = 5 -->
<g transform="translate(101.416 695.42375)">
<text>
<tspan x="0" y="-0.40625" style="font-size: 10px; font-family: 'DejaVu Sans', sans-serif">Δ</tspan>
<tspan x="6.84082" y="-0.40625" style="font-size: 10px; font-family: 'DejaVu Sans', sans-serif">(</tspan>
<tspan x="10.742188" y="-0.40625" style="font-size: 10px; font-family: 'DejaVu Sans', sans-serif">i</tspan>
<tspan x="13.520508" y="-0.40625" style="font-size: 10px; font-family: 'DejaVu Sans', sans-serif">,</tspan>
<tspan x="16.699219" y="-0.40625" style="font-size: 10px; font-family: 'DejaVu Sans', sans-serif">j</tspan>
<tspan x="19.477539" y="-0.40625" style="font-size: 10px; font-family: 'DejaVu Sans', sans-serif">)</tspan>
<tspan x="23.378906" y="-0.40625" style="font-size: 10px; font-family: 'DejaVu Sans', sans-serif"> </tspan>
<tspan x="26.557617" y="-0.40625" style="font-size: 10px; font-family: 'DejaVu Sans', sans-serif">=</tspan>
<tspan x="34.936523" y="-0.40625" style="font-size: 10px; font-family: 'DejaVu Sans', sans-serif"> </tspan>
<tspan x="38.115234" y="-0.40625" style="font-size: 10px; font-family: 'DejaVu Sans', sans-serif">5</tspan>
</text>
</g>
</g>
<g id="PathCollection_17">
<g>
<use href="#m575c3f739f" x="83.416" y="707.39875" style="fill: #9cfba4; opacity: 0.8; stroke: #000000; stroke-width: 1.2"/>
</g>
</g>
<g id="text_53">
<!-- $\Delta$(i,j) = 6 -->
<g transform="translate(101.416 710.02375)">
<text>
<tspan x="0" y="-0.40625" style="font-size: 10px; font-family: 'DejaVu Sans', sans-serif">Δ</tspan>
<tspan x="6.84082" y="-0.40625" style="font-size: 10px; font-family: 'DejaVu Sans', sans-serif">(</tspan>
<tspan x="10.742188" y="-0.40625" style="font-size: 10px; font-family: 'DejaVu Sans', sans-serif">i</tspan>
<tspan x="13.520508" y="-0.40625" style="font-size: 10px; font-family: 'DejaVu Sans', sans-serif">,</tspan>
<tspan x="16.699219" y="-0.40625" style="font-size: 10px; font-family: 'DejaVu Sans', sans-serif">j</tspan>
<tspan x="19.477539" y="-0.40625" style="font-size: 10px; font-family: 'DejaVu Sans', sans-serif">)</tspan>
<tspan x="23.378906" y="-0.40625" style="font-size: 10px; font-family: 'DejaVu Sans', sans-serif"> </tspan>
<tspan x="26.557617" y="-0.40625" style="font-size: 10px; font-family: 'DejaVu Sans', sans-serif">=</tspan>
<tspan x="34.936523" y="-0.40625" style="font-size: 10px; font-family: 'DejaVu Sans', sans-serif"> </tspan>
<tspan x="38.115234" y="-0.40625" style="font-size: 10px; font-family: 'DejaVu Sans', sans-serif">6</tspan>
</text>
</g>
</g>
<g id="PathCollection_18">
<g>
<use href="#m4f0f06e88a" x="83.416" y="721.99875" style="fill: #d4dd80; opacity: 0.8; stroke: #000000; stroke-width: 1.2"/>
</g>
</g>
<g id="text_54">
<!-- $\Delta$(i,j) = 7 -->
<g transform="translate(101.416 724.62375)">
<text>
<tspan x="0" y="-0.40625" style="font-size: 10px; font-family: 'DejaVu Sans', sans-serif">Δ</tspan>
<tspan x="6.84082" y="-0.40625" style="font-size: 10px; font-family: 'DejaVu Sans', sans-serif">(</tspan>
<tspan x="10.742188" y="-0.40625" style="font-size: 10px; font-family: 'DejaVu Sans', sans-serif">i</tspan>
<tspan x="13.520508" y="-0.40625" style="font-size: 10px; font-family: 'DejaVu Sans', sans-serif">,</tspan>
<tspan x="16.699219" y="-0.40625" style="font-size: 10px; font-family: 'DejaVu Sans', sans-serif">j</tspan>
<tspan x="19.477539" y="-0.40625" style="font-size: 10px; font-family: 'DejaVu Sans', sans-serif">)</tspan>
<tspan x="23.378906" y="-0.40625" style="font-size: 10px; font-family: 'DejaVu Sans', sans-serif"> </tspan>
<tspan x="26.557617" y="-0.40625" style="font-size: 10px; font-family: 'DejaVu Sans', sans-serif">=</tspan>
<tspan x="34.936523" y="-0.40625" style="font-size: 10px; font-family: 'DejaVu Sans', sans-serif"> </tspan>
<tspan x="38.115234" y="-0.40625" style="font-size: 10px; font-family: 'DejaVu Sans', sans-serif">7</tspan>
</text>
</g>
</g>
<g id="PathCollection_19">
<g>
<use href="#m84d82134be" x="83.416" y="736.59875" style="fill: #ffa256; opacity: 0.8; stroke: #000000; stroke-width: 1.2"/>
</g>
</g>
<g id="text_55">
<!-- $\Delta$(i,j) = 8 -->
<g transform="translate(101.416 739.22375)">
<text>
<tspan x="0" y="-0.40625" style="font-size: 10px; font-family: 'DejaVu Sans', sans-serif">Δ</tspan>
<tspan x="6.84082" y="-0.40625" style="font-size: 10px; font-family: 'DejaVu Sans', sans-serif">(</tspan>
<tspan x="10.742188" y="-0.40625" style="font-size: 10px; font-family: 'DejaVu Sans', sans-serif">i</tspan>
<tspan x="13.520508" y="-0.40625" style="font-size: 10px; font-family: 'DejaVu Sans', sans-serif">,</tspan>
<tspan x="16.699219" y="-0.40625" style="font-size: 10px; font-family: 'DejaVu Sans', sans-serif">j</tspan>
<tspan x="19.477539" y="-0.40625" style="font-size: 10px; font-family: 'DejaVu Sans', sans-serif">)</tspan>
<tspan x="23.378906" y="-0.40625" style="font-size: 10px; font-family: 'DejaVu Sans', sans-serif"> </tspan>
<tspan x="26.557617" y="-0.40625" style="font-size: 10px; font-family: 'DejaVu Sans', sans-serif">=</tspan>
<tspan x="34.936523" y="-0.40625" style="font-size: 10px; font-family: 'DejaVu Sans', sans-serif"> </tspan>
<tspan x="38.115234" y="-0.40625" style="font-size: 10px; font-family: 'DejaVu Sans', sans-serif">8</tspan>
</text>
</g>
</g>
<g id="PathCollection_20">
<g>
<use href="#m8f4c476fff" x="83.416" y="751.19875" style="fill: #ff562c; opacity: 0.8; stroke: #000000; stroke-width: 1.2"/>
</g>
</g>
<g id="text_56">
<!-- $\Delta$(i,j) = 9 -->
<g transform="translate(101.416 753.82375)">
<text>
<tspan x="0" y="-0.40625" style="font-size: 10px; font-family: 'DejaVu Sans', sans-serif">Δ</tspan>
<tspan x="6.84082" y="-0.40625" style="font-size: 10px; font-family: 'DejaVu Sans', sans-serif">(</tspan>
<tspan x="10.742188" y="-0.40625" style="font-size: 10px; font-family: 'DejaVu Sans', sans-serif">i</tspan>
<tspan x="13.520508" y="-0.40625" style="font-size: 10px; font-family: 'DejaVu Sans', sans-serif">,</tspan>
<tspan x="16.699219" y="-0.40625" style="font-size: 10px; font-family: 'DejaVu Sans', sans-serif">j</tspan>
<tspan x="19.477539" y="-0.40625" style="font-size: 10px; font-family: 'DejaVu Sans', sans-serif">)</tspan>
<tspan x="23.378906" y="-0.40625" style="font-size: 10px; font-family: 'DejaVu Sans', sans-serif"> </tspan>
<tspan x="26.557617" y="-0.40625" style="font-size: 10px; font-family: 'DejaVu Sans', sans-serif">=</tspan>
<tspan x="34.936523" y="-0.40625" style="font-size: 10px; font-family: 'DejaVu Sans', sans-serif"> </tspan>
<tspan x="38.115234" y="-0.40625" style="font-size: 10px; font-family: 'DejaVu Sans', sans-serif">9</tspan>
</text>
</g>
</g>
<g id="PathCollection_21">
<g>
<use href="#m8a9e0acf4e" x="83.416" y="765.79875" style="fill: #ff0000; opacity: 0.8; stroke: #000000; stroke-width: 1.2"/>
</g>
</g>
<g id="text_57">
<!-- $\Delta$(i,j) = 10 -->
<g transform="translate(101.416 768.42375)">
<text>
<tspan x="0" y="-0.40625" style="font-size: 10px; font-family: 'DejaVu Sans', sans-serif">Δ</tspan>
<tspan x="6.84082" y="-0.40625" style="font-size: 10px; font-family: 'DejaVu Sans', sans-serif">(</tspan>
<tspan x="10.742188" y="-0.40625" style="font-size: 10px; font-family: 'DejaVu Sans', sans-serif">i</tspan>
<tspan x="13.520508" y="-0.40625" style="font-size: 10px; font-family: 'DejaVu Sans', sans-serif">,</tspan>
<tspan x="16.699219" y="-0.40625" style="font-size: 10px; font-family: 'DejaVu Sans', sans-serif">j</tspan>
<tspan x="19.477539" y="-0.40625" style="font-size: 10px; font-family: 'DejaVu Sans', sans-serif">)</tspan>
<tspan x="23.378906" y="-0.40625" style="font-size: 10px; font-family: 'DejaVu Sans', sans-serif"> </tspan>
<tspan x="26.557617" y="-0.40625" style="font-size: 10px; font-family: 'DejaVu Sans', sans-serif">=</tspan>
<tspan x="34.936523" y="-0.40625" style="font-size: 10px; font-family: 'DejaVu Sans', sans-serif"> </tspan>
<tspan x="38.115234" y="-0.40625" style="font-size: 10px; font-family: 'DejaVu Sans', sans-serif">1</tspan>
<tspan x="44.477539" y="-0.40625" style="font-size: 10px; font-family: 'DejaVu Sans', sans-serif">0</tspan>
</text>
</g>
</g>
<g id="PathCollection_22">
<g>
<use href="#m2e836ae7ef" x="83.416" y="780.397187" style="fill: #0000ff; stroke: #0000ff; stroke-width: 1.2"/>
</g>
</g>
<g id="text_58">
<text style="font-size: 10px; font-family: 'DejaVu Sans', sans-serif; text-anchor: start" x="101.416" y="783.022187" transform="rotate(-0 101.416 783.022187)">Onsager</text>
</g>
<g id="line2d_88">
<path d="M 73.416 794.100312 L 83.416 794.100312 L 93.416 794.100312 " style="fill: none; stroke: #ff0000; stroke-width: 1.9; stroke-linecap: square"/>
</g>
<g id="text_59">
<text style="font-size: 10px; font-family: 'DejaVu Sans', sans-serif; text-anchor: start" x="101.416" y="797.600312" transform="rotate(-0 101.416 797.600312)">Fit</text>
</g>
</g>
</g>
</g>
<defs>
<clipPath id="p5dd6ad48ba">
<rect x="58.08" y="14.28" width="489.36" height="361.56"/>
</clipPath>
<clipPath id="p1205e213a5">
<rect x="64.416" y="452.544" width="478.464" height="356.136"/>
</clipPath>
</defs>
</svg>

</body></html>
